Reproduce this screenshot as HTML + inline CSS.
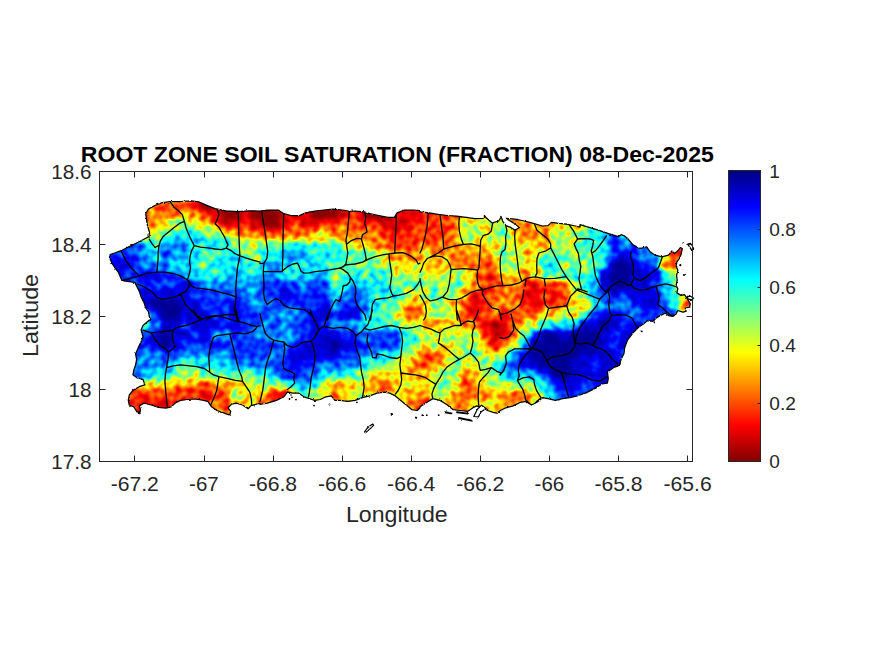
<!DOCTYPE html>
<html lang="en"><head><meta charset="utf-8"><title>Root Zone Soil Saturation</title>
<style>
html,body{margin:0;padding:0;background:#fff;}
body{width:875px;height:656px;overflow:hidden;position:relative;font-family:"Liberation Sans",Arial,sans-serif;}
svg{position:absolute;left:0;top:0;display:block;}
text{font-family:"Liberation Sans",Arial,sans-serif;}
.tk{font-size:21px;fill:#262626;}
.ck{font-size:19px;fill:#262626;}
.lb{font-size:22.5px;fill:#262626;}
.tt{font-size:22px;font-weight:bold;fill:#000;}
</style></head><body>
<svg width="875" height="656" viewBox="0 0 875 656">
<defs>
<linearGradient id="cb" x1="0" y1="0" x2="0" y2="1">
<stop offset="0" stop-color="#000080"/><stop offset="0.125" stop-color="#0000ff"/><stop offset="0.375" stop-color="#00ffff"/><stop offset="0.625" stop-color="#ffff00"/><stop offset="0.875" stop-color="#ff0000"/><stop offset="1" stop-color="#800000"/>
</linearGradient>
</defs>
<rect x="0" y="0" width="875" height="656" fill="#ffffff"/>

<defs>
<filter id="fld" x="90" y="190" width="620" height="260" filterUnits="userSpaceOnUse" color-interpolation-filters="sRGB">
<feGaussianBlur in="SourceGraphic" stdDeviation="2.7" result="b"/>
<feTurbulence type="fractalNoise" baseFrequency="0.16" numOctaves="1" seed="7" result="n"/>
<feColorMatrix in="n" type="matrix" values="1 0 0 0 0  1 0 0 0 0  1 0 0 0 0  0 0 0 0 1" result="ng"/>
<feComponentTransfer in="b" result="w"><feFuncR type="table" tableValues="0.000 0.134 0.258 0.371 0.474 0.566 0.648 0.721 0.784 0.837 0.882 0.918 0.945 0.963 0.973 0.976 0.970 0.957 0.936 0.909 0.874 0.833 0.785 0.731 0.671 0.605 0.534 0.457 0.375 0.288 0.197 0.100 0.000"/><feFuncG type="table" tableValues="0.000 0.134 0.258 0.371 0.474 0.566 0.648 0.721 0.784 0.837 0.882 0.918 0.945 0.963 0.973 0.976 0.970 0.957 0.936 0.909 0.874 0.833 0.785 0.731 0.671 0.605 0.534 0.457 0.375 0.288 0.197 0.100 0.000"/><feFuncB type="table" tableValues="0.000 0.134 0.258 0.371 0.474 0.566 0.648 0.721 0.784 0.837 0.882 0.918 0.945 0.963 0.973 0.976 0.970 0.957 0.936 0.909 0.874 0.833 0.785 0.731 0.671 0.605 0.534 0.457 0.375 0.288 0.197 0.100 0.000"/></feComponentTransfer>
<feComponentTransfer in="b" result="b2"><feFuncR type="table" tableValues="0.000 0.000 0.000 0.000 0.000 0.001 0.009 0.021 0.034 0.051 0.070 0.091 0.115 0.141 0.170 0.200 0.233 0.268 0.305 0.344 0.385 0.427 0.472 0.518 0.565 0.615 0.666 0.718 0.772 0.827 0.883 0.941 1.000"/><feFuncG type="table" tableValues="0.000 0.000 0.000 0.000 0.000 0.001 0.009 0.021 0.034 0.051 0.070 0.091 0.115 0.141 0.170 0.200 0.233 0.268 0.305 0.344 0.385 0.427 0.472 0.518 0.565 0.615 0.666 0.718 0.772 0.827 0.883 0.941 1.000"/><feFuncB type="table" tableValues="0.000 0.000 0.000 0.000 0.000 0.001 0.009 0.021 0.034 0.051 0.070 0.091 0.115 0.141 0.170 0.200 0.233 0.268 0.305 0.344 0.385 0.427 0.472 0.518 0.565 0.615 0.666 0.718 0.772 0.827 0.883 0.941 1.000"/></feComponentTransfer>
<feComposite in="w" in2="ng" operator="arithmetic" k1="1" k2="0" k3="0" k4="0" result="wn"/>
<feComposite in="b2" in2="wn" operator="arithmetic" k1="0" k2="1" k3="0.550" k4="0" result="v"/>
<feComponentTransfer in="v"><feFuncR type="table" tableValues="0.500 0.625 0.750 0.875 1.000 1.000 1.000 1.000 1.000 1.000 1.000 1.000 1.000 0.875 0.750 0.625 0.500 0.375 0.250 0.125 0.000 0.000 0.000 0.000 0.000 0.000 0.000 0.000 0.000 0.000 0.000 0.000 0.000"/><feFuncG type="table" tableValues="0.000 0.000 0.000 0.000 0.000 0.125 0.250 0.375 0.500 0.625 0.750 0.875 1.000 1.000 1.000 1.000 1.000 1.000 1.000 1.000 1.000 0.875 0.750 0.625 0.500 0.375 0.250 0.125 0.000 0.000 0.000 0.000 0.000"/><feFuncB type="table" tableValues="0.000 0.000 0.000 0.000 0.000 0.000 0.000 0.000 0.000 0.000 0.000 0.000 0.000 0.125 0.250 0.375 0.500 0.625 0.750 0.875 1.000 1.000 1.000 1.000 1.000 1.000 1.000 1.000 1.000 0.875 0.750 0.625 0.500"/></feComponentTransfer>
</filter>
<filter id="rough" x="90" y="190" width="620" height="260" filterUnits="userSpaceOnUse">
<feTurbulence type="fractalNoise" baseFrequency="0.35" numOctaves="2" seed="3" result="t"/>
<feDisplacementMap in="SourceGraphic" in2="t" scale="2.2" xChannelSelector="R" yChannelSelector="G"/>
</filter>
<clipPath id="isl"><path d="M151.2 320.0L149.4 317.0L148.4 311.5L145.7 307.9L143.9 302.4L141.1 296.9L139.3 291.4L136.6 285.9L134.7 282.3L127.4 281.4L121.9 280.4L118.3 272.2L115.5 268.6L111.9 263.1L109.5 257.6L110.1 254.5L114.6 253.0L121.9 250.3L129.3 246.6L136.6 243.0L143.9 239.3L149.0 236.6L149.4 232.0L147.5 225.6L146.6 220.1L145.7 213.7L148.4 209.1L154.8 205.5L162.2 202.7L170.4 201.5L180.4 201.5L191.4 200.9L198.6 201.9L206.8 205.3L215.0 208.7L226.0 210.8L237.0 211.7L250.0 210.8L260.0 211.0L267.3 210.0L278.3 210.0L283.8 213.7L291.0 215.5L299.3 215.5L305.7 212.8L314.8 211.0L324.0 210.0L333.0 209.1L342.3 210.0L349.6 211.3L355.0 211.0L364.2 211.9L369.7 213.7L378.8 215.5L388.0 217.4L394.4 217.4L397.1 212.8L404.4 210.0L413.6 210.0L420.0 210.6L420.0 211.9L429.1 212.8L438.3 214.3L447.4 215.5L456.6 216.1L465.7 217.4L474.8 218.6L483.1 218.3L484.9 216.1L486.7 218.3L492.2 222.9L498.6 221.0L501.4 216.8L502.6 221.0L505.9 225.6L510.5 227.4L515.1 230.2L519.6 227.4L513.2 222.9L505.9 218.3L515.1 219.2L524.2 221.0L533.3 223.4L542.5 226.0L548.0 225.6L551.6 222.3L558.9 223.4L566.3 224.1L575.4 226.0L580.0 227.1L580.0 224.7L589.1 227.4L598.3 230.2L609.3 233.8L618.4 236.6L621.1 234.7L624.8 236.2L628.4 239.3L633.0 244.8L640.0 248.5L646.7 246.8L650.1 251.8L655.1 255.2L661.8 256.8L668.5 255.2L671.9 251.0L674.4 253.5L677.8 251.0L680.3 247.6L682.3 248.5L681.1 254.3L679.4 258.5L676.9 261.9L676.1 266.1L677.8 270.3L676.6 275.3L677.2 280.3L676.1 285.4L677.8 288.7L676.9 292.9L681.1 295.4L684.5 294.6L687.8 299.6L690.3 303.8L689.5 307.2L685.3 308.0L686.1 311.4L682.8 312.2L677.8 310.5L676.1 313.9L672.7 316.4L668.5 315.6L665.2 313.1L660.1 315.6L655.9 318.1L654.5 320.0L652.6 321.4L647.6 320.6L643.4 324.0L638.5 327.3L633.0 332.8L627.5 340.1L624.8 347.4L623.9 353.8L621.1 359.3L619.3 365.7L613.8 367.5L607.4 372.1L608.3 378.5L607.4 383.1L601.9 384.0L596.5 387.6L591.0 390.4L585.5 393.1L580.0 395.0L577.2 395.9L569.9 397.7L562.6 398.6L555.3 400.4L548.0 398.6L542.5 397.7L537.0 402.3L531.5 405.0L526.0 401.4L520.5 402.3L513.2 405.9L505.9 407.8L500.4 410.5L496.8 413.2L493.1 412.3L487.6 410.5L482.2 407.8L476.7 405.9L473.0 407.8L467.5 411.4L460.2 410.5L452.9 409.6L447.4 405.0L440.1 400.4L432.8 398.6L425.5 403.2L420.0 406.8L420.0 407.8L417.2 410.5L411.7 409.6L406.3 405.0L400.8 400.4L395.3 395.9L389.8 393.1L384.3 392.2L377.0 393.1L369.7 395.9L362.4 397.7L355.1 400.4L347.8 401.4L340.4 400.4L335.0 400.4L331.3 395.9L325.8 396.8L320.3 399.5L314.8 400.4L309.4 398.6L303.9 396.8L298.4 393.1L292.9 393.1L287.4 392.2L283.8 396.8L276.5 400.4L267.3 403.2L260.0 404.5L260.0 403.2L255.4 404.5L250.8 405.9L248.1 408.7L242.6 405.0L236.2 403.2L231.6 404.1L228.0 407.8L230.7 411.4L229.8 415.1L224.3 413.2L217.0 410.5L211.5 406.8L207.9 401.4L202.4 400.1L195.1 399.0L187.8 399.5L180.4 400.4L175.0 403.2L171.3 406.8L165.8 408.1L158.5 407.4L151.2 405.0L143.9 403.2L139.3 405.9L140.6 409.6L139.3 413.6L136.6 411.4L133.8 406.8L129.3 405.0L128.3 400.4L129.3 395.0L132.9 390.4L139.3 386.7L144.8 384.9L143.0 379.4L136.6 377.6L132.9 374.8L133.8 370.3L135.6 364.8L136.6 359.3L135.6 353.8L138.4 347.4L141.1 341.9L143.0 336.5L141.1 330.1L143.0 325.5L149.4 320.0Z"/></clipPath></defs>
<g clip-path="url(#isl)"><g filter="url(#fld)">
<rect x="90" y="190" width="620" height="260" fill="#808080"/>
<rect x="100" y="200" width="10.5" height="10.5" fill="#8a8a8a"/>
<rect x="110" y="200" width="10.5" height="10.5" fill="#444444"/>
<rect x="120" y="200" width="40.5" height="10.5" fill="#424242"/>
<rect x="160" y="200" width="30.5" height="10.5" fill="#2e2e2e"/>
<rect x="190" y="200" width="10.5" height="10.5" fill="#171717"/>
<rect x="200" y="200" width="20.5" height="10.5" fill="#030303"/>
<rect x="220" y="200" width="10.5" height="10.5" fill="#080808"/>
<rect x="230" y="200" width="30.5" height="10.5" fill="#090909"/>
<rect x="260" y="200" width="10.5" height="10.5" fill="#030303"/>
<rect x="270" y="200" width="10.5" height="10.5" fill="#090909"/>
<rect x="280" y="200" width="10.5" height="10.5" fill="#101010"/>
<rect x="290" y="200" width="10.5" height="10.5" fill="#171717"/>
<rect x="300" y="200" width="10.5" height="10.5" fill="#101010"/>
<rect x="310" y="200" width="10.5" height="10.5" fill="#090909"/>
<rect x="320" y="200" width="10.5" height="10.5" fill="#030303"/>
<rect x="330" y="200" width="10.5" height="10.5" fill="#090909"/>
<rect x="340" y="200" width="20.5" height="10.5" fill="#181818"/>
<rect x="360" y="200" width="10.5" height="10.5" fill="#111111"/>
<rect x="370" y="200" width="10.5" height="10.5" fill="#030303"/>
<rect x="380" y="200" width="10.5" height="10.5" fill="#090909"/>
<rect x="390" y="200" width="10.5" height="10.5" fill="#101010"/>
<rect x="400" y="200" width="10.5" height="10.5" fill="#171717"/>
<rect x="410" y="200" width="10.5" height="10.5" fill="#1f1f1f"/>
<rect x="420" y="200" width="10.5" height="10.5" fill="#262626"/>
<rect x="430" y="200" width="20.5" height="10.5" fill="#2e2e2e"/>
<rect x="450" y="200" width="10.5" height="10.5" fill="#3d3d3d"/>
<rect x="460" y="200" width="10.5" height="10.5" fill="#4c4c4c"/>
<rect x="470" y="200" width="10.5" height="10.5" fill="#535353"/>
<rect x="480" y="200" width="10.5" height="10.5" fill="#4f4f4f"/>
<rect x="490" y="200" width="10.5" height="10.5" fill="#424242"/>
<rect x="500" y="200" width="10.5" height="10.5" fill="#565656"/>
<rect x="510" y="200" width="10.5" height="10.5" fill="#525252"/>
<rect x="520" y="200" width="10.5" height="10.5" fill="#484848"/>
<rect x="530" y="200" width="10.5" height="10.5" fill="#454545"/>
<rect x="540" y="200" width="10.5" height="10.5" fill="#4b4b4b"/>
<rect x="550" y="200" width="10.5" height="10.5" fill="#565656"/>
<rect x="560" y="200" width="10.5" height="10.5" fill="#616161"/>
<rect x="570" y="200" width="10.5" height="10.5" fill="#707070"/>
<rect x="580" y="200" width="10.5" height="10.5" fill="#7d7d7d"/>
<rect x="590" y="200" width="10.5" height="10.5" fill="#8f8f8f"/>
<rect x="600" y="200" width="10.5" height="10.5" fill="#959595"/>
<rect x="610" y="200" width="10.5" height="10.5" fill="#a1a1a1"/>
<rect x="620" y="200" width="10.5" height="10.5" fill="#acacac"/>
<rect x="630" y="200" width="10.5" height="10.5" fill="#ababab"/>
<rect x="640" y="200" width="10.5" height="10.5" fill="#a7a7a7"/>
<rect x="650" y="200" width="10.5" height="10.5" fill="#a1a1a1"/>
<rect x="660" y="200" width="10.5" height="10.5" fill="#c3c3c3"/>
<rect x="670" y="200" width="20.5" height="10.5" fill="#d4d4d4"/>
<rect x="690" y="200" width="10.5" height="10.5" fill="#7e7e7e"/>
<rect x="100" y="210" width="10.5" height="10.5" fill="#d0d0d0"/>
<rect x="110" y="210" width="10.5" height="10.5" fill="#8a8a8a"/>
<rect x="120" y="210" width="10.5" height="10.5" fill="#454545"/>
<rect x="130" y="210" width="50.5" height="10.5" fill="#424242"/>
<rect x="180" y="210" width="10.5" height="10.5" fill="#5c5c5c"/>
<rect x="190" y="210" width="10.5" height="10.5" fill="#424242"/>
<rect x="200" y="210" width="10.5" height="10.5" fill="#2e2e2e"/>
<rect x="210" y="210" width="10.5" height="10.5" fill="#171717"/>
<rect x="220" y="210" width="20.5" height="10.5" fill="#030303"/>
<rect x="240" y="210" width="10.5" height="10.5" fill="#171717"/>
<rect x="250" y="210" width="30.5" height="10.5" fill="#030303"/>
<rect x="280" y="210" width="30.5" height="10.5" fill="#171717"/>
<rect x="310" y="210" width="30.5" height="10.5" fill="#030303"/>
<rect x="340" y="210" width="10.5" height="10.5" fill="#171717"/>
<rect x="350" y="210" width="10.5" height="10.5" fill="#2e2e2e"/>
<rect x="360" y="210" width="30.5" height="10.5" fill="#030303"/>
<rect x="390" y="210" width="30.5" height="10.5" fill="#171717"/>
<rect x="420" y="210" width="40.5" height="10.5" fill="#2e2e2e"/>
<rect x="460" y="210" width="20.5" height="10.5" fill="#5c5c5c"/>
<rect x="480" y="210" width="10.5" height="10.5" fill="#424242"/>
<rect x="490" y="210" width="10.5" height="10.5" fill="#616161"/>
<rect x="500" y="210" width="10.5" height="10.5" fill="#636363"/>
<rect x="510" y="210" width="10.5" height="10.5" fill="#525252"/>
<rect x="520" y="210" width="20.5" height="10.5" fill="#424242"/>
<rect x="540" y="210" width="10.5" height="10.5" fill="#4b4b4b"/>
<rect x="550" y="210" width="10.5" height="10.5" fill="#535353"/>
<rect x="560" y="210" width="10.5" height="10.5" fill="#636363"/>
<rect x="570" y="210" width="10.5" height="10.5" fill="#6b6b6b"/>
<rect x="580" y="210" width="10.5" height="10.5" fill="#828282"/>
<rect x="590" y="210" width="10.5" height="10.5" fill="#8a8a8a"/>
<rect x="600" y="210" width="10.5" height="10.5" fill="#a1a1a1"/>
<rect x="610" y="210" width="10.5" height="10.5" fill="#b2b2b2"/>
<rect x="620" y="210" width="10.5" height="10.5" fill="#b2b2b2"/>
<rect x="630" y="210" width="10.5" height="10.5" fill="#adadad"/>
<rect x="640" y="210" width="10.5" height="10.5" fill="#a1a1a1"/>
<rect x="650" y="210" width="10.5" height="10.5" fill="#c3c3c3"/>
<rect x="660" y="210" width="20.5" height="10.5" fill="#d4d4d4"/>
<rect x="680" y="210" width="10.5" height="10.5" fill="#6f6f6f"/>
<rect x="690" y="210" width="10.5" height="10.5" fill="#373737"/>
<rect x="100" y="220" width="10.5" height="10.5" fill="#d4d4d4"/>
<rect x="110" y="220" width="10.5" height="10.5" fill="#cdcdcd"/>
<rect x="120" y="220" width="10.5" height="10.5" fill="#8c8c8c"/>
<rect x="130" y="220" width="10.5" height="10.5" fill="#4b4b4b"/>
<rect x="140" y="220" width="20.5" height="10.5" fill="#424242"/>
<rect x="160" y="220" width="10.5" height="10.5" fill="#5c5c5c"/>
<rect x="170" y="220" width="10.5" height="10.5" fill="#737373"/>
<rect x="180" y="220" width="10.5" height="10.5" fill="#8a8a8a"/>
<rect x="190" y="220" width="10.5" height="10.5" fill="#737373"/>
<rect x="200" y="220" width="10.5" height="10.5" fill="#5c5c5c"/>
<rect x="210" y="220" width="10.5" height="10.5" fill="#424242"/>
<rect x="220" y="220" width="20.5" height="10.5" fill="#171717"/>
<rect x="240" y="220" width="10.5" height="10.5" fill="#2e2e2e"/>
<rect x="250" y="220" width="10.5" height="10.5" fill="#171717"/>
<rect x="260" y="220" width="20.5" height="10.5" fill="#030303"/>
<rect x="280" y="220" width="10.5" height="10.5" fill="#171717"/>
<rect x="290" y="220" width="10.5" height="10.5" fill="#2e2e2e"/>
<rect x="300" y="220" width="20.5" height="10.5" fill="#171717"/>
<rect x="320" y="220" width="20.5" height="10.5" fill="#2e2e2e"/>
<rect x="340" y="220" width="10.5" height="10.5" fill="#424242"/>
<rect x="350" y="220" width="30.5" height="10.5" fill="#2e2e2e"/>
<rect x="380" y="220" width="30.5" height="10.5" fill="#171717"/>
<rect x="410" y="220" width="40.5" height="10.5" fill="#2e2e2e"/>
<rect x="450" y="220" width="10.5" height="10.5" fill="#424242"/>
<rect x="460" y="220" width="20.5" height="10.5" fill="#737373"/>
<rect x="480" y="220" width="10.5" height="10.5" fill="#5c5c5c"/>
<rect x="490" y="220" width="20.5" height="10.5" fill="#737373"/>
<rect x="510" y="220" width="40.5" height="10.5" fill="#424242"/>
<rect x="550" y="220" width="20.5" height="10.5" fill="#5c5c5c"/>
<rect x="570" y="220" width="20.5" height="10.5" fill="#737373"/>
<rect x="590" y="220" width="10.5" height="10.5" fill="#a1a1a1"/>
<rect x="600" y="220" width="10.5" height="10.5" fill="#b4b4b4"/>
<rect x="610" y="220" width="20.5" height="10.5" fill="#bababa"/>
<rect x="630" y="220" width="10.5" height="10.5" fill="#a1a1a1"/>
<rect x="640" y="220" width="10.5" height="10.5" fill="#c2c2c2"/>
<rect x="650" y="220" width="20.5" height="10.5" fill="#d4d4d4"/>
<rect x="670" y="220" width="10.5" height="10.5" fill="#797979"/>
<rect x="680" y="220" width="10.5" height="10.5" fill="#3b3b3b"/>
<rect x="690" y="220" width="10.5" height="10.5" fill="#343434"/>
<rect x="100" y="230" width="20.5" height="10.5" fill="#d4d4d4"/>
<rect x="120" y="230" width="10.5" height="10.5" fill="#c7c7c7"/>
<rect x="130" y="230" width="10.5" height="10.5" fill="#949494"/>
<rect x="140" y="230" width="10.5" height="10.5" fill="#5c5c5c"/>
<rect x="150" y="230" width="10.5" height="10.5" fill="#737373"/>
<rect x="160" y="230" width="10.5" height="10.5" fill="#8a8a8a"/>
<rect x="170" y="230" width="30.5" height="10.5" fill="#a1a1a1"/>
<rect x="200" y="230" width="20.5" height="10.5" fill="#8a8a8a"/>
<rect x="220" y="230" width="10.5" height="10.5" fill="#737373"/>
<rect x="230" y="230" width="10.5" height="10.5" fill="#5c5c5c"/>
<rect x="240" y="230" width="30.5" height="10.5" fill="#424242"/>
<rect x="270" y="230" width="10.5" height="10.5" fill="#2e2e2e"/>
<rect x="280" y="230" width="30.5" height="10.5" fill="#424242"/>
<rect x="310" y="230" width="20.5" height="10.5" fill="#5c5c5c"/>
<rect x="330" y="230" width="50.5" height="10.5" fill="#424242"/>
<rect x="380" y="230" width="10.5" height="10.5" fill="#2e2e2e"/>
<rect x="390" y="230" width="10.5" height="10.5" fill="#171717"/>
<rect x="400" y="230" width="50.5" height="10.5" fill="#2e2e2e"/>
<rect x="450" y="230" width="10.5" height="10.5" fill="#424242"/>
<rect x="460" y="230" width="20.5" height="10.5" fill="#737373"/>
<rect x="480" y="230" width="10.5" height="10.5" fill="#5c5c5c"/>
<rect x="490" y="230" width="10.5" height="10.5" fill="#737373"/>
<rect x="500" y="230" width="10.5" height="10.5" fill="#8a8a8a"/>
<rect x="510" y="230" width="10.5" height="10.5" fill="#5c5c5c"/>
<rect x="520" y="230" width="30.5" height="10.5" fill="#424242"/>
<rect x="550" y="230" width="30.5" height="10.5" fill="#737373"/>
<rect x="580" y="230" width="10.5" height="10.5" fill="#8a8a8a"/>
<rect x="590" y="230" width="10.5" height="10.5" fill="#a1a1a1"/>
<rect x="600" y="230" width="10.5" height="10.5" fill="#bababa"/>
<rect x="610" y="230" width="10.5" height="10.5" fill="#d4d4d4"/>
<rect x="620" y="230" width="10.5" height="10.5" fill="#a1a1a1"/>
<rect x="630" y="230" width="10.5" height="10.5" fill="#c1c1c1"/>
<rect x="640" y="230" width="20.5" height="10.5" fill="#d4d4d4"/>
<rect x="660" y="230" width="10.5" height="10.5" fill="#8b8b8b"/>
<rect x="670" y="230" width="10.5" height="10.5" fill="#4a4a4a"/>
<rect x="680" y="230" width="10.5" height="10.5" fill="#393939"/>
<rect x="690" y="230" width="10.5" height="10.5" fill="#2e2e2e"/>
<rect x="100" y="240" width="30.5" height="10.5" fill="#d4d4d4"/>
<rect x="130" y="240" width="20.5" height="10.5" fill="#bababa"/>
<rect x="150" y="240" width="10.5" height="10.5" fill="#8a8a8a"/>
<rect x="160" y="240" width="30.5" height="10.5" fill="#bababa"/>
<rect x="190" y="240" width="40.5" height="10.5" fill="#a1a1a1"/>
<rect x="230" y="240" width="10.5" height="10.5" fill="#8a8a8a"/>
<rect x="240" y="240" width="20.5" height="10.5" fill="#737373"/>
<rect x="260" y="240" width="30.5" height="10.5" fill="#8a8a8a"/>
<rect x="290" y="240" width="10.5" height="10.5" fill="#a1a1a1"/>
<rect x="300" y="240" width="40.5" height="10.5" fill="#8a8a8a"/>
<rect x="340" y="240" width="10.5" height="10.5" fill="#737373"/>
<rect x="350" y="240" width="20.5" height="10.5" fill="#5c5c5c"/>
<rect x="370" y="240" width="20.5" height="10.5" fill="#424242"/>
<rect x="390" y="240" width="30.5" height="10.5" fill="#2e2e2e"/>
<rect x="420" y="240" width="10.5" height="10.5" fill="#424242"/>
<rect x="430" y="240" width="10.5" height="10.5" fill="#2e2e2e"/>
<rect x="440" y="240" width="20.5" height="10.5" fill="#424242"/>
<rect x="460" y="240" width="40.5" height="10.5" fill="#5c5c5c"/>
<rect x="500" y="240" width="10.5" height="10.5" fill="#737373"/>
<rect x="510" y="240" width="30.5" height="10.5" fill="#5c5c5c"/>
<rect x="540" y="240" width="10.5" height="10.5" fill="#424242"/>
<rect x="550" y="240" width="30.5" height="10.5" fill="#737373"/>
<rect x="580" y="240" width="10.5" height="10.5" fill="#a1a1a1"/>
<rect x="590" y="240" width="10.5" height="10.5" fill="#8a8a8a"/>
<rect x="600" y="240" width="10.5" height="10.5" fill="#a1a1a1"/>
<rect x="610" y="240" width="10.5" height="10.5" fill="#ebebeb"/>
<rect x="620" y="240" width="10.5" height="10.5" fill="#bababa"/>
<rect x="630" y="240" width="20.5" height="10.5" fill="#d4d4d4"/>
<rect x="650" y="240" width="10.5" height="10.5" fill="#a9a9a9"/>
<rect x="660" y="240" width="10.5" height="10.5" fill="#6c6c6c"/>
<rect x="670" y="240" width="10.5" height="10.5" fill="#454545"/>
<rect x="680" y="240" width="20.5" height="10.5" fill="#2e2e2e"/>
<rect x="100" y="250" width="10.5" height="10.5" fill="#dfdfdf"/>
<rect x="110" y="250" width="30.5" height="10.5" fill="#d4d4d4"/>
<rect x="140" y="250" width="10.5" height="10.5" fill="#bababa"/>
<rect x="150" y="250" width="10.5" height="10.5" fill="#a1a1a1"/>
<rect x="160" y="250" width="10.5" height="10.5" fill="#d4d4d4"/>
<rect x="170" y="250" width="20.5" height="10.5" fill="#bababa"/>
<rect x="190" y="250" width="10.5" height="10.5" fill="#a1a1a1"/>
<rect x="200" y="250" width="20.5" height="10.5" fill="#8a8a8a"/>
<rect x="220" y="250" width="20.5" height="10.5" fill="#a1a1a1"/>
<rect x="240" y="250" width="10.5" height="10.5" fill="#8a8a8a"/>
<rect x="250" y="250" width="10.5" height="10.5" fill="#737373"/>
<rect x="260" y="250" width="20.5" height="10.5" fill="#a1a1a1"/>
<rect x="280" y="250" width="30.5" height="10.5" fill="#bababa"/>
<rect x="310" y="250" width="30.5" height="10.5" fill="#a1a1a1"/>
<rect x="340" y="250" width="30.5" height="10.5" fill="#8a8a8a"/>
<rect x="370" y="250" width="10.5" height="10.5" fill="#737373"/>
<rect x="380" y="250" width="10.5" height="10.5" fill="#5c5c5c"/>
<rect x="390" y="250" width="30.5" height="10.5" fill="#424242"/>
<rect x="420" y="250" width="20.5" height="10.5" fill="#5c5c5c"/>
<rect x="440" y="250" width="50.5" height="10.5" fill="#424242"/>
<rect x="490" y="250" width="10.5" height="10.5" fill="#5c5c5c"/>
<rect x="500" y="250" width="10.5" height="10.5" fill="#8a8a8a"/>
<rect x="510" y="250" width="10.5" height="10.5" fill="#737373"/>
<rect x="520" y="250" width="20.5" height="10.5" fill="#5c5c5c"/>
<rect x="540" y="250" width="30.5" height="10.5" fill="#8a8a8a"/>
<rect x="570" y="250" width="10.5" height="10.5" fill="#737373"/>
<rect x="580" y="250" width="20.5" height="10.5" fill="#8a8a8a"/>
<rect x="600" y="250" width="10.5" height="10.5" fill="#a1a1a1"/>
<rect x="610" y="250" width="10.5" height="10.5" fill="#d4d4d4"/>
<rect x="620" y="250" width="10.5" height="10.5" fill="#ebebeb"/>
<rect x="630" y="250" width="10.5" height="10.5" fill="#d4d4d4"/>
<rect x="640" y="250" width="20.5" height="10.5" fill="#bababa"/>
<rect x="660" y="250" width="10.5" height="10.5" fill="#5c5c5c"/>
<rect x="670" y="250" width="20.5" height="10.5" fill="#2e2e2e"/>
<rect x="690" y="250" width="10.5" height="10.5" fill="#363636"/>
<rect x="100" y="260" width="10.5" height="10.5" fill="#dfdfdf"/>
<rect x="110" y="260" width="20.5" height="10.5" fill="#ebebeb"/>
<rect x="130" y="260" width="10.5" height="10.5" fill="#d4d4d4"/>
<rect x="140" y="260" width="30.5" height="10.5" fill="#bababa"/>
<rect x="170" y="260" width="30.5" height="10.5" fill="#a1a1a1"/>
<rect x="200" y="260" width="10.5" height="10.5" fill="#8a8a8a"/>
<rect x="210" y="260" width="40.5" height="10.5" fill="#a1a1a1"/>
<rect x="250" y="260" width="10.5" height="10.5" fill="#8a8a8a"/>
<rect x="260" y="260" width="20.5" height="10.5" fill="#bababa"/>
<rect x="280" y="260" width="50.5" height="10.5" fill="#a1a1a1"/>
<rect x="330" y="260" width="50.5" height="10.5" fill="#8a8a8a"/>
<rect x="380" y="260" width="10.5" height="10.5" fill="#737373"/>
<rect x="390" y="260" width="40.5" height="10.5" fill="#5c5c5c"/>
<rect x="430" y="260" width="10.5" height="10.5" fill="#424242"/>
<rect x="440" y="260" width="10.5" height="10.5" fill="#5c5c5c"/>
<rect x="450" y="260" width="30.5" height="10.5" fill="#424242"/>
<rect x="480" y="260" width="10.5" height="10.5" fill="#2e2e2e"/>
<rect x="490" y="260" width="10.5" height="10.5" fill="#424242"/>
<rect x="500" y="260" width="10.5" height="10.5" fill="#8a8a8a"/>
<rect x="510" y="260" width="10.5" height="10.5" fill="#737373"/>
<rect x="520" y="260" width="20.5" height="10.5" fill="#5c5c5c"/>
<rect x="540" y="260" width="20.5" height="10.5" fill="#a1a1a1"/>
<rect x="560" y="260" width="10.5" height="10.5" fill="#737373"/>
<rect x="570" y="260" width="10.5" height="10.5" fill="#8a8a8a"/>
<rect x="580" y="260" width="10.5" height="10.5" fill="#737373"/>
<rect x="590" y="260" width="10.5" height="10.5" fill="#8a8a8a"/>
<rect x="600" y="260" width="10.5" height="10.5" fill="#bababa"/>
<rect x="610" y="260" width="20.5" height="10.5" fill="#fafafa"/>
<rect x="630" y="260" width="10.5" height="10.5" fill="#ebebeb"/>
<rect x="640" y="260" width="20.5" height="10.5" fill="#d4d4d4"/>
<rect x="660" y="260" width="10.5" height="10.5" fill="#424242"/>
<rect x="670" y="260" width="10.5" height="10.5" fill="#2e2e2e"/>
<rect x="680" y="260" width="10.5" height="10.5" fill="#454545"/>
<rect x="690" y="260" width="10.5" height="10.5" fill="#474747"/>
<rect x="100" y="270" width="10.5" height="10.5" fill="#ebebeb"/>
<rect x="110" y="270" width="10.5" height="10.5" fill="#e3e3e3"/>
<rect x="120" y="270" width="20.5" height="10.5" fill="#d4d4d4"/>
<rect x="140" y="270" width="20.5" height="10.5" fill="#ebebeb"/>
<rect x="160" y="270" width="20.5" height="10.5" fill="#d4d4d4"/>
<rect x="180" y="270" width="10.5" height="10.5" fill="#bababa"/>
<rect x="190" y="270" width="40.5" height="10.5" fill="#a1a1a1"/>
<rect x="230" y="270" width="10.5" height="10.5" fill="#bababa"/>
<rect x="240" y="270" width="20.5" height="10.5" fill="#a1a1a1"/>
<rect x="260" y="270" width="20.5" height="10.5" fill="#bababa"/>
<rect x="280" y="270" width="30.5" height="10.5" fill="#a1a1a1"/>
<rect x="310" y="270" width="20.5" height="10.5" fill="#bababa"/>
<rect x="330" y="270" width="10.5" height="10.5" fill="#737373"/>
<rect x="340" y="270" width="10.5" height="10.5" fill="#8a8a8a"/>
<rect x="350" y="270" width="10.5" height="10.5" fill="#a1a1a1"/>
<rect x="360" y="270" width="10.5" height="10.5" fill="#8a8a8a"/>
<rect x="370" y="270" width="10.5" height="10.5" fill="#a1a1a1"/>
<rect x="380" y="270" width="10.5" height="10.5" fill="#8a8a8a"/>
<rect x="390" y="270" width="40.5" height="10.5" fill="#737373"/>
<rect x="430" y="270" width="10.5" height="10.5" fill="#5c5c5c"/>
<rect x="440" y="270" width="30.5" height="10.5" fill="#737373"/>
<rect x="470" y="270" width="10.5" height="10.5" fill="#424242"/>
<rect x="480" y="270" width="20.5" height="10.5" fill="#2e2e2e"/>
<rect x="500" y="270" width="20.5" height="10.5" fill="#5c5c5c"/>
<rect x="520" y="270" width="10.5" height="10.5" fill="#424242"/>
<rect x="530" y="270" width="10.5" height="10.5" fill="#5c5c5c"/>
<rect x="540" y="270" width="30.5" height="10.5" fill="#8a8a8a"/>
<rect x="570" y="270" width="10.5" height="10.5" fill="#a1a1a1"/>
<rect x="580" y="270" width="10.5" height="10.5" fill="#8a8a8a"/>
<rect x="590" y="270" width="10.5" height="10.5" fill="#a1a1a1"/>
<rect x="600" y="270" width="10.5" height="10.5" fill="#ebebeb"/>
<rect x="610" y="270" width="20.5" height="10.5" fill="#fafafa"/>
<rect x="630" y="270" width="30.5" height="10.5" fill="#ebebeb"/>
<rect x="660" y="270" width="10.5" height="10.5" fill="#a1a1a1"/>
<rect x="670" y="270" width="10.5" height="10.5" fill="#737373"/>
<rect x="680" y="270" width="10.5" height="10.5" fill="#636363"/>
<rect x="690" y="270" width="10.5" height="10.5" fill="#5f5f5f"/>
<rect x="100" y="280" width="10.5" height="10.5" fill="#e0e0e0"/>
<rect x="110" y="280" width="70.5" height="10.5" fill="#d4d4d4"/>
<rect x="180" y="280" width="10.5" height="10.5" fill="#ebebeb"/>
<rect x="190" y="280" width="10.5" height="10.5" fill="#d4d4d4"/>
<rect x="200" y="280" width="60.5" height="10.5" fill="#bababa"/>
<rect x="260" y="280" width="40.5" height="10.5" fill="#d4d4d4"/>
<rect x="300" y="280" width="10.5" height="10.5" fill="#bababa"/>
<rect x="310" y="280" width="20.5" height="10.5" fill="#d4d4d4"/>
<rect x="330" y="280" width="10.5" height="10.5" fill="#8a8a8a"/>
<rect x="340" y="280" width="10.5" height="10.5" fill="#a1a1a1"/>
<rect x="350" y="280" width="10.5" height="10.5" fill="#bababa"/>
<rect x="360" y="280" width="30.5" height="10.5" fill="#a1a1a1"/>
<rect x="390" y="280" width="30.5" height="10.5" fill="#8a8a8a"/>
<rect x="420" y="280" width="10.5" height="10.5" fill="#737373"/>
<rect x="430" y="280" width="10.5" height="10.5" fill="#8a8a8a"/>
<rect x="440" y="280" width="10.5" height="10.5" fill="#737373"/>
<rect x="450" y="280" width="10.5" height="10.5" fill="#8a8a8a"/>
<rect x="460" y="280" width="10.5" height="10.5" fill="#737373"/>
<rect x="470" y="280" width="10.5" height="10.5" fill="#424242"/>
<rect x="480" y="280" width="20.5" height="10.5" fill="#2e2e2e"/>
<rect x="500" y="280" width="20.5" height="10.5" fill="#424242"/>
<rect x="520" y="280" width="10.5" height="10.5" fill="#2e2e2e"/>
<rect x="530" y="280" width="10.5" height="10.5" fill="#171717"/>
<rect x="540" y="280" width="20.5" height="10.5" fill="#2e2e2e"/>
<rect x="560" y="280" width="10.5" height="10.5" fill="#424242"/>
<rect x="570" y="280" width="10.5" height="10.5" fill="#737373"/>
<rect x="580" y="280" width="10.5" height="10.5" fill="#a1a1a1"/>
<rect x="590" y="280" width="10.5" height="10.5" fill="#bababa"/>
<rect x="600" y="280" width="10.5" height="10.5" fill="#ebebeb"/>
<rect x="610" y="280" width="20.5" height="10.5" fill="#fafafa"/>
<rect x="630" y="280" width="20.5" height="10.5" fill="#ebebeb"/>
<rect x="650" y="280" width="10.5" height="10.5" fill="#d4d4d4"/>
<rect x="660" y="280" width="10.5" height="10.5" fill="#bababa"/>
<rect x="670" y="280" width="10.5" height="10.5" fill="#8a8a8a"/>
<rect x="680" y="280" width="10.5" height="10.5" fill="#787878"/>
<rect x="690" y="280" width="10.5" height="10.5" fill="#5c5c5c"/>
<rect x="100" y="290" width="30.5" height="10.5" fill="#d4d4d4"/>
<rect x="130" y="290" width="10.5" height="10.5" fill="#dfdfdf"/>
<rect x="140" y="290" width="50.5" height="10.5" fill="#ebebeb"/>
<rect x="190" y="290" width="50.5" height="10.5" fill="#d4d4d4"/>
<rect x="240" y="290" width="20.5" height="10.5" fill="#bababa"/>
<rect x="260" y="290" width="20.5" height="10.5" fill="#d4d4d4"/>
<rect x="280" y="290" width="10.5" height="10.5" fill="#ebebeb"/>
<rect x="290" y="290" width="40.5" height="10.5" fill="#d4d4d4"/>
<rect x="330" y="290" width="10.5" height="10.5" fill="#a1a1a1"/>
<rect x="340" y="290" width="10.5" height="10.5" fill="#bababa"/>
<rect x="350" y="290" width="10.5" height="10.5" fill="#d4d4d4"/>
<rect x="360" y="290" width="10.5" height="10.5" fill="#bababa"/>
<rect x="370" y="290" width="30.5" height="10.5" fill="#a1a1a1"/>
<rect x="400" y="290" width="10.5" height="10.5" fill="#737373"/>
<rect x="410" y="290" width="10.5" height="10.5" fill="#5c5c5c"/>
<rect x="420" y="290" width="10.5" height="10.5" fill="#737373"/>
<rect x="430" y="290" width="10.5" height="10.5" fill="#8a8a8a"/>
<rect x="440" y="290" width="20.5" height="10.5" fill="#737373"/>
<rect x="460" y="290" width="10.5" height="10.5" fill="#424242"/>
<rect x="470" y="290" width="10.5" height="10.5" fill="#171717"/>
<rect x="480" y="290" width="20.5" height="10.5" fill="#2e2e2e"/>
<rect x="500" y="290" width="20.5" height="10.5" fill="#424242"/>
<rect x="520" y="290" width="20.5" height="10.5" fill="#171717"/>
<rect x="540" y="290" width="10.5" height="10.5" fill="#2e2e2e"/>
<rect x="550" y="290" width="10.5" height="10.5" fill="#171717"/>
<rect x="560" y="290" width="10.5" height="10.5" fill="#2e2e2e"/>
<rect x="570" y="290" width="10.5" height="10.5" fill="#5c5c5c"/>
<rect x="580" y="290" width="10.5" height="10.5" fill="#737373"/>
<rect x="590" y="290" width="10.5" height="10.5" fill="#bababa"/>
<rect x="600" y="290" width="10.5" height="10.5" fill="#d4d4d4"/>
<rect x="610" y="290" width="10.5" height="10.5" fill="#ebebeb"/>
<rect x="620" y="290" width="10.5" height="10.5" fill="#d4d4d4"/>
<rect x="630" y="290" width="30.5" height="10.5" fill="#ebebeb"/>
<rect x="660" y="290" width="10.5" height="10.5" fill="#bababa"/>
<rect x="670" y="290" width="10.5" height="10.5" fill="#8a8a8a"/>
<rect x="680" y="290" width="10.5" height="10.5" fill="#5c5c5c"/>
<rect x="690" y="290" width="10.5" height="10.5" fill="#454545"/>
<rect x="100" y="300" width="20.5" height="10.5" fill="#d4d4d4"/>
<rect x="120" y="300" width="10.5" height="10.5" fill="#d0d0d0"/>
<rect x="130" y="300" width="10.5" height="10.5" fill="#d2d2d2"/>
<rect x="140" y="300" width="10.5" height="10.5" fill="#ebebeb"/>
<rect x="150" y="300" width="30.5" height="10.5" fill="#fafafa"/>
<rect x="180" y="300" width="20.5" height="10.5" fill="#ebebeb"/>
<rect x="200" y="300" width="30.5" height="10.5" fill="#d4d4d4"/>
<rect x="230" y="300" width="10.5" height="10.5" fill="#ebebeb"/>
<rect x="240" y="300" width="10.5" height="10.5" fill="#d4d4d4"/>
<rect x="250" y="300" width="20.5" height="10.5" fill="#bababa"/>
<rect x="270" y="300" width="50.5" height="10.5" fill="#d4d4d4"/>
<rect x="320" y="300" width="10.5" height="10.5" fill="#ebebeb"/>
<rect x="330" y="300" width="10.5" height="10.5" fill="#bababa"/>
<rect x="340" y="300" width="20.5" height="10.5" fill="#d4d4d4"/>
<rect x="360" y="300" width="10.5" height="10.5" fill="#bababa"/>
<rect x="370" y="300" width="10.5" height="10.5" fill="#a1a1a1"/>
<rect x="380" y="300" width="20.5" height="10.5" fill="#8a8a8a"/>
<rect x="400" y="300" width="10.5" height="10.5" fill="#5c5c5c"/>
<rect x="410" y="300" width="10.5" height="10.5" fill="#424242"/>
<rect x="420" y="300" width="10.5" height="10.5" fill="#5c5c5c"/>
<rect x="430" y="300" width="10.5" height="10.5" fill="#8a8a8a"/>
<rect x="440" y="300" width="10.5" height="10.5" fill="#737373"/>
<rect x="450" y="300" width="10.5" height="10.5" fill="#5c5c5c"/>
<rect x="460" y="300" width="10.5" height="10.5" fill="#2e2e2e"/>
<rect x="470" y="300" width="10.5" height="10.5" fill="#171717"/>
<rect x="480" y="300" width="10.5" height="10.5" fill="#2e2e2e"/>
<rect x="490" y="300" width="30.5" height="10.5" fill="#424242"/>
<rect x="520" y="300" width="10.5" height="10.5" fill="#2e2e2e"/>
<rect x="530" y="300" width="10.5" height="10.5" fill="#171717"/>
<rect x="540" y="300" width="20.5" height="10.5" fill="#2e2e2e"/>
<rect x="560" y="300" width="10.5" height="10.5" fill="#424242"/>
<rect x="570" y="300" width="20.5" height="10.5" fill="#5c5c5c"/>
<rect x="590" y="300" width="10.5" height="10.5" fill="#a1a1a1"/>
<rect x="600" y="300" width="30.5" height="10.5" fill="#bababa"/>
<rect x="630" y="300" width="10.5" height="10.5" fill="#d4d4d4"/>
<rect x="640" y="300" width="20.5" height="10.5" fill="#ebebeb"/>
<rect x="660" y="300" width="10.5" height="10.5" fill="#bababa"/>
<rect x="670" y="300" width="10.5" height="10.5" fill="#a1a1a1"/>
<rect x="680" y="300" width="10.5" height="10.5" fill="#2e2e2e"/>
<rect x="690" y="300" width="10.5" height="10.5" fill="#454545"/>
<rect x="100" y="310" width="10.5" height="10.5" fill="#d4d4d4"/>
<rect x="110" y="310" width="10.5" height="10.5" fill="#cbcbcb"/>
<rect x="120" y="310" width="10.5" height="10.5" fill="#bfbfbf"/>
<rect x="130" y="310" width="10.5" height="10.5" fill="#b9b9b9"/>
<rect x="140" y="310" width="10.5" height="10.5" fill="#a1a1a1"/>
<rect x="150" y="310" width="10.5" height="10.5" fill="#d4d4d4"/>
<rect x="160" y="310" width="20.5" height="10.5" fill="#fafafa"/>
<rect x="180" y="310" width="30.5" height="10.5" fill="#ebebeb"/>
<rect x="210" y="310" width="20.5" height="10.5" fill="#d4d4d4"/>
<rect x="230" y="310" width="10.5" height="10.5" fill="#ebebeb"/>
<rect x="240" y="310" width="30.5" height="10.5" fill="#d4d4d4"/>
<rect x="270" y="310" width="30.5" height="10.5" fill="#bababa"/>
<rect x="300" y="310" width="10.5" height="10.5" fill="#d4d4d4"/>
<rect x="310" y="310" width="20.5" height="10.5" fill="#ebebeb"/>
<rect x="330" y="310" width="10.5" height="10.5" fill="#d4d4d4"/>
<rect x="340" y="310" width="20.5" height="10.5" fill="#ebebeb"/>
<rect x="360" y="310" width="10.5" height="10.5" fill="#bababa"/>
<rect x="370" y="310" width="10.5" height="10.5" fill="#a1a1a1"/>
<rect x="380" y="310" width="10.5" height="10.5" fill="#8a8a8a"/>
<rect x="390" y="310" width="10.5" height="10.5" fill="#737373"/>
<rect x="400" y="310" width="10.5" height="10.5" fill="#424242"/>
<rect x="410" y="310" width="10.5" height="10.5" fill="#2e2e2e"/>
<rect x="420" y="310" width="10.5" height="10.5" fill="#5c5c5c"/>
<rect x="430" y="310" width="20.5" height="10.5" fill="#737373"/>
<rect x="450" y="310" width="10.5" height="10.5" fill="#5c5c5c"/>
<rect x="460" y="310" width="10.5" height="10.5" fill="#2e2e2e"/>
<rect x="470" y="310" width="10.5" height="10.5" fill="#171717"/>
<rect x="480" y="310" width="10.5" height="10.5" fill="#2e2e2e"/>
<rect x="490" y="310" width="10.5" height="10.5" fill="#424242"/>
<rect x="500" y="310" width="10.5" height="10.5" fill="#171717"/>
<rect x="510" y="310" width="10.5" height="10.5" fill="#2e2e2e"/>
<rect x="520" y="310" width="10.5" height="10.5" fill="#424242"/>
<rect x="530" y="310" width="10.5" height="10.5" fill="#2e2e2e"/>
<rect x="540" y="310" width="20.5" height="10.5" fill="#5c5c5c"/>
<rect x="560" y="310" width="10.5" height="10.5" fill="#737373"/>
<rect x="570" y="310" width="10.5" height="10.5" fill="#5c5c5c"/>
<rect x="580" y="310" width="10.5" height="10.5" fill="#a1a1a1"/>
<rect x="590" y="310" width="10.5" height="10.5" fill="#d4d4d4"/>
<rect x="600" y="310" width="20.5" height="10.5" fill="#ebebeb"/>
<rect x="620" y="310" width="10.5" height="10.5" fill="#d4d4d4"/>
<rect x="630" y="310" width="10.5" height="10.5" fill="#bababa"/>
<rect x="640" y="310" width="40.5" height="10.5" fill="#d4d4d4"/>
<rect x="680" y="310" width="10.5" height="10.5" fill="#8b8b8b"/>
<rect x="690" y="310" width="10.5" height="10.5" fill="#2e2e2e"/>
<rect x="100" y="320" width="20.5" height="10.5" fill="#d4d4d4"/>
<rect x="120" y="320" width="10.5" height="10.5" fill="#c1c1c1"/>
<rect x="130" y="320" width="10.5" height="10.5" fill="#b2b2b2"/>
<rect x="140" y="320" width="10.5" height="10.5" fill="#a1a1a1"/>
<rect x="150" y="320" width="10.5" height="10.5" fill="#bababa"/>
<rect x="160" y="320" width="20.5" height="10.5" fill="#ebebeb"/>
<rect x="180" y="320" width="10.5" height="10.5" fill="#d4d4d4"/>
<rect x="190" y="320" width="30.5" height="10.5" fill="#ebebeb"/>
<rect x="220" y="320" width="10.5" height="10.5" fill="#d4d4d4"/>
<rect x="230" y="320" width="10.5" height="10.5" fill="#ebebeb"/>
<rect x="240" y="320" width="20.5" height="10.5" fill="#d4d4d4"/>
<rect x="260" y="320" width="10.5" height="10.5" fill="#bababa"/>
<rect x="270" y="320" width="10.5" height="10.5" fill="#d4d4d4"/>
<rect x="280" y="320" width="10.5" height="10.5" fill="#bababa"/>
<rect x="290" y="320" width="20.5" height="10.5" fill="#d4d4d4"/>
<rect x="310" y="320" width="10.5" height="10.5" fill="#ebebeb"/>
<rect x="320" y="320" width="10.5" height="10.5" fill="#d4d4d4"/>
<rect x="330" y="320" width="30.5" height="10.5" fill="#bababa"/>
<rect x="360" y="320" width="10.5" height="10.5" fill="#a1a1a1"/>
<rect x="370" y="320" width="10.5" height="10.5" fill="#8a8a8a"/>
<rect x="380" y="320" width="10.5" height="10.5" fill="#a1a1a1"/>
<rect x="390" y="320" width="10.5" height="10.5" fill="#8a8a8a"/>
<rect x="400" y="320" width="20.5" height="10.5" fill="#737373"/>
<rect x="420" y="320" width="20.5" height="10.5" fill="#424242"/>
<rect x="440" y="320" width="20.5" height="10.5" fill="#5c5c5c"/>
<rect x="460" y="320" width="20.5" height="10.5" fill="#424242"/>
<rect x="480" y="320" width="10.5" height="10.5" fill="#171717"/>
<rect x="490" y="320" width="10.5" height="10.5" fill="#030303"/>
<rect x="500" y="320" width="10.5" height="10.5" fill="#171717"/>
<rect x="510" y="320" width="10.5" height="10.5" fill="#424242"/>
<rect x="520" y="320" width="10.5" height="10.5" fill="#5c5c5c"/>
<rect x="530" y="320" width="10.5" height="10.5" fill="#737373"/>
<rect x="540" y="320" width="30.5" height="10.5" fill="#a1a1a1"/>
<rect x="570" y="320" width="10.5" height="10.5" fill="#bababa"/>
<rect x="580" y="320" width="20.5" height="10.5" fill="#ebebeb"/>
<rect x="600" y="320" width="10.5" height="10.5" fill="#fafafa"/>
<rect x="610" y="320" width="10.5" height="10.5" fill="#ebebeb"/>
<rect x="620" y="320" width="10.5" height="10.5" fill="#d4d4d4"/>
<rect x="630" y="320" width="10.5" height="10.5" fill="#ebebeb"/>
<rect x="640" y="320" width="50.5" height="10.5" fill="#d4d4d4"/>
<rect x="690" y="320" width="10.5" height="10.5" fill="#848484"/>
<rect x="100" y="330" width="10.5" height="10.5" fill="#d3d3d3"/>
<rect x="110" y="330" width="20.5" height="10.5" fill="#d4d4d4"/>
<rect x="130" y="330" width="10.5" height="10.5" fill="#c7c7c7"/>
<rect x="140" y="330" width="10.5" height="10.5" fill="#d4d4d4"/>
<rect x="150" y="330" width="10.5" height="10.5" fill="#ebebeb"/>
<rect x="160" y="330" width="10.5" height="10.5" fill="#fafafa"/>
<rect x="170" y="330" width="20.5" height="10.5" fill="#ebebeb"/>
<rect x="190" y="330" width="10.5" height="10.5" fill="#d4d4d4"/>
<rect x="200" y="330" width="10.5" height="10.5" fill="#ebebeb"/>
<rect x="210" y="330" width="20.5" height="10.5" fill="#bababa"/>
<rect x="230" y="330" width="20.5" height="10.5" fill="#d4d4d4"/>
<rect x="250" y="330" width="50.5" height="10.5" fill="#bababa"/>
<rect x="300" y="330" width="10.5" height="10.5" fill="#d4d4d4"/>
<rect x="310" y="330" width="30.5" height="10.5" fill="#ebebeb"/>
<rect x="340" y="330" width="20.5" height="10.5" fill="#d4d4d4"/>
<rect x="360" y="330" width="10.5" height="10.5" fill="#bababa"/>
<rect x="370" y="330" width="30.5" height="10.5" fill="#d4d4d4"/>
<rect x="400" y="330" width="10.5" height="10.5" fill="#a1a1a1"/>
<rect x="410" y="330" width="10.5" height="10.5" fill="#8a8a8a"/>
<rect x="420" y="330" width="60.5" height="10.5" fill="#737373"/>
<rect x="480" y="330" width="10.5" height="10.5" fill="#2e2e2e"/>
<rect x="490" y="330" width="20.5" height="10.5" fill="#171717"/>
<rect x="510" y="330" width="10.5" height="10.5" fill="#424242"/>
<rect x="520" y="330" width="10.5" height="10.5" fill="#8a8a8a"/>
<rect x="530" y="330" width="10.5" height="10.5" fill="#d4d4d4"/>
<rect x="540" y="330" width="20.5" height="10.5" fill="#fafafa"/>
<rect x="560" y="330" width="10.5" height="10.5" fill="#ebebeb"/>
<rect x="570" y="330" width="30.5" height="10.5" fill="#fafafa"/>
<rect x="600" y="330" width="10.5" height="10.5" fill="#ebebeb"/>
<rect x="610" y="330" width="10.5" height="10.5" fill="#d4d4d4"/>
<rect x="620" y="330" width="20.5" height="10.5" fill="#ebebeb"/>
<rect x="640" y="330" width="10.5" height="10.5" fill="#dfdfdf"/>
<rect x="650" y="330" width="50.5" height="10.5" fill="#d4d4d4"/>
<rect x="100" y="340" width="20.5" height="10.5" fill="#d1d1d1"/>
<rect x="120" y="340" width="30.5" height="10.5" fill="#d4d4d4"/>
<rect x="150" y="340" width="10.5" height="10.5" fill="#ebebeb"/>
<rect x="160" y="340" width="10.5" height="10.5" fill="#fafafa"/>
<rect x="170" y="340" width="10.5" height="10.5" fill="#ebebeb"/>
<rect x="180" y="340" width="30.5" height="10.5" fill="#d4d4d4"/>
<rect x="210" y="340" width="10.5" height="10.5" fill="#ebebeb"/>
<rect x="220" y="340" width="60.5" height="10.5" fill="#d4d4d4"/>
<rect x="280" y="340" width="10.5" height="10.5" fill="#bababa"/>
<rect x="290" y="340" width="10.5" height="10.5" fill="#d4d4d4"/>
<rect x="300" y="340" width="30.5" height="10.5" fill="#ebebeb"/>
<rect x="330" y="340" width="10.5" height="10.5" fill="#fafafa"/>
<rect x="340" y="340" width="20.5" height="10.5" fill="#ebebeb"/>
<rect x="360" y="340" width="40.5" height="10.5" fill="#d4d4d4"/>
<rect x="400" y="340" width="10.5" height="10.5" fill="#a1a1a1"/>
<rect x="410" y="340" width="10.5" height="10.5" fill="#8a8a8a"/>
<rect x="420" y="340" width="10.5" height="10.5" fill="#5c5c5c"/>
<rect x="430" y="340" width="10.5" height="10.5" fill="#737373"/>
<rect x="440" y="340" width="10.5" height="10.5" fill="#5c5c5c"/>
<rect x="450" y="340" width="20.5" height="10.5" fill="#737373"/>
<rect x="470" y="340" width="10.5" height="10.5" fill="#8a8a8a"/>
<rect x="480" y="340" width="10.5" height="10.5" fill="#424242"/>
<rect x="490" y="340" width="10.5" height="10.5" fill="#171717"/>
<rect x="500" y="340" width="10.5" height="10.5" fill="#424242"/>
<rect x="510" y="340" width="10.5" height="10.5" fill="#737373"/>
<rect x="520" y="340" width="10.5" height="10.5" fill="#bababa"/>
<rect x="530" y="340" width="70.5" height="10.5" fill="#fafafa"/>
<rect x="600" y="340" width="10.5" height="10.5" fill="#ebebeb"/>
<rect x="610" y="340" width="10.5" height="10.5" fill="#d4d4d4"/>
<rect x="620" y="340" width="10.5" height="10.5" fill="#ebebeb"/>
<rect x="630" y="340" width="10.5" height="10.5" fill="#dedede"/>
<rect x="640" y="340" width="10.5" height="10.5" fill="#ebebeb"/>
<rect x="650" y="340" width="10.5" height="10.5" fill="#dcdcdc"/>
<rect x="660" y="340" width="40.5" height="10.5" fill="#d4d4d4"/>
<rect x="100" y="350" width="10.5" height="10.5" fill="#c9c9c9"/>
<rect x="110" y="350" width="10.5" height="10.5" fill="#cecece"/>
<rect x="120" y="350" width="10.5" height="10.5" fill="#cbcbcb"/>
<rect x="130" y="350" width="10.5" height="10.5" fill="#d4d4d4"/>
<rect x="140" y="350" width="20.5" height="10.5" fill="#bababa"/>
<rect x="160" y="350" width="20.5" height="10.5" fill="#d4d4d4"/>
<rect x="180" y="350" width="50.5" height="10.5" fill="#bababa"/>
<rect x="230" y="350" width="40.5" height="10.5" fill="#d4d4d4"/>
<rect x="270" y="350" width="10.5" height="10.5" fill="#bababa"/>
<rect x="280" y="350" width="10.5" height="10.5" fill="#d4d4d4"/>
<rect x="290" y="350" width="50.5" height="10.5" fill="#ebebeb"/>
<rect x="340" y="350" width="20.5" height="10.5" fill="#d4d4d4"/>
<rect x="360" y="350" width="20.5" height="10.5" fill="#bababa"/>
<rect x="380" y="350" width="20.5" height="10.5" fill="#a1a1a1"/>
<rect x="400" y="350" width="10.5" height="10.5" fill="#737373"/>
<rect x="410" y="350" width="10.5" height="10.5" fill="#5c5c5c"/>
<rect x="420" y="350" width="20.5" height="10.5" fill="#2e2e2e"/>
<rect x="440" y="350" width="10.5" height="10.5" fill="#424242"/>
<rect x="450" y="350" width="20.5" height="10.5" fill="#737373"/>
<rect x="470" y="350" width="10.5" height="10.5" fill="#8a8a8a"/>
<rect x="480" y="350" width="10.5" height="10.5" fill="#737373"/>
<rect x="490" y="350" width="10.5" height="10.5" fill="#5c5c5c"/>
<rect x="500" y="350" width="10.5" height="10.5" fill="#8a8a8a"/>
<rect x="510" y="350" width="10.5" height="10.5" fill="#bababa"/>
<rect x="520" y="350" width="10.5" height="10.5" fill="#ebebeb"/>
<rect x="530" y="350" width="50.5" height="10.5" fill="#fafafa"/>
<rect x="580" y="350" width="40.5" height="10.5" fill="#ebebeb"/>
<rect x="620" y="350" width="10.5" height="10.5" fill="#bababa"/>
<rect x="630" y="350" width="10.5" height="10.5" fill="#d2d2d2"/>
<rect x="640" y="350" width="10.5" height="10.5" fill="#d5d5d5"/>
<rect x="650" y="350" width="10.5" height="10.5" fill="#ebebeb"/>
<rect x="660" y="350" width="10.5" height="10.5" fill="#dcdcdc"/>
<rect x="670" y="350" width="30.5" height="10.5" fill="#d4d4d4"/>
<rect x="100" y="360" width="10.5" height="10.5" fill="#8d8d8d"/>
<rect x="110" y="360" width="10.5" height="10.5" fill="#bbbbbb"/>
<rect x="120" y="360" width="10.5" height="10.5" fill="#cbcbcb"/>
<rect x="130" y="360" width="40.5" height="10.5" fill="#bababa"/>
<rect x="170" y="360" width="10.5" height="10.5" fill="#a1a1a1"/>
<rect x="180" y="360" width="20.5" height="10.5" fill="#8a8a8a"/>
<rect x="200" y="360" width="30.5" height="10.5" fill="#a1a1a1"/>
<rect x="230" y="360" width="40.5" height="10.5" fill="#bababa"/>
<rect x="270" y="360" width="20.5" height="10.5" fill="#d4d4d4"/>
<rect x="290" y="360" width="10.5" height="10.5" fill="#ebebeb"/>
<rect x="300" y="360" width="20.5" height="10.5" fill="#d4d4d4"/>
<rect x="320" y="360" width="10.5" height="10.5" fill="#bababa"/>
<rect x="330" y="360" width="10.5" height="10.5" fill="#d4d4d4"/>
<rect x="340" y="360" width="20.5" height="10.5" fill="#bababa"/>
<rect x="360" y="360" width="10.5" height="10.5" fill="#a1a1a1"/>
<rect x="370" y="360" width="20.5" height="10.5" fill="#8a8a8a"/>
<rect x="390" y="360" width="10.5" height="10.5" fill="#737373"/>
<rect x="400" y="360" width="10.5" height="10.5" fill="#5c5c5c"/>
<rect x="410" y="360" width="10.5" height="10.5" fill="#424242"/>
<rect x="420" y="360" width="10.5" height="10.5" fill="#2e2e2e"/>
<rect x="430" y="360" width="10.5" height="10.5" fill="#424242"/>
<rect x="440" y="360" width="10.5" height="10.5" fill="#5c5c5c"/>
<rect x="450" y="360" width="10.5" height="10.5" fill="#8a8a8a"/>
<rect x="460" y="360" width="10.5" height="10.5" fill="#5c5c5c"/>
<rect x="470" y="360" width="10.5" height="10.5" fill="#737373"/>
<rect x="480" y="360" width="20.5" height="10.5" fill="#8a8a8a"/>
<rect x="500" y="360" width="10.5" height="10.5" fill="#bababa"/>
<rect x="510" y="360" width="10.5" height="10.5" fill="#d4d4d4"/>
<rect x="520" y="360" width="20.5" height="10.5" fill="#ebebeb"/>
<rect x="540" y="360" width="30.5" height="10.5" fill="#fafafa"/>
<rect x="570" y="360" width="20.5" height="10.5" fill="#ebebeb"/>
<rect x="590" y="360" width="10.5" height="10.5" fill="#d4d4d4"/>
<rect x="600" y="360" width="20.5" height="10.5" fill="#ebebeb"/>
<rect x="620" y="360" width="10.5" height="10.5" fill="#dadada"/>
<rect x="630" y="360" width="10.5" height="10.5" fill="#bababa"/>
<rect x="640" y="360" width="10.5" height="10.5" fill="#c6c6c6"/>
<rect x="650" y="360" width="10.5" height="10.5" fill="#d0d0d0"/>
<rect x="660" y="360" width="10.5" height="10.5" fill="#ebebeb"/>
<rect x="670" y="360" width="10.5" height="10.5" fill="#dbdbdb"/>
<rect x="680" y="360" width="20.5" height="10.5" fill="#d4d4d4"/>
<rect x="100" y="370" width="10.5" height="10.5" fill="#2e2e2e"/>
<rect x="110" y="370" width="10.5" height="10.5" fill="#7c7c7c"/>
<rect x="120" y="370" width="10.5" height="10.5" fill="#9b9b9b"/>
<rect x="130" y="370" width="10.5" height="10.5" fill="#d4d4d4"/>
<rect x="140" y="370" width="10.5" height="10.5" fill="#bababa"/>
<rect x="150" y="370" width="20.5" height="10.5" fill="#a1a1a1"/>
<rect x="170" y="370" width="10.5" height="10.5" fill="#8a8a8a"/>
<rect x="180" y="370" width="20.5" height="10.5" fill="#737373"/>
<rect x="200" y="370" width="40.5" height="10.5" fill="#8a8a8a"/>
<rect x="240" y="370" width="10.5" height="10.5" fill="#737373"/>
<rect x="250" y="370" width="20.5" height="10.5" fill="#a1a1a1"/>
<rect x="270" y="370" width="10.5" height="10.5" fill="#bababa"/>
<rect x="280" y="370" width="30.5" height="10.5" fill="#d4d4d4"/>
<rect x="310" y="370" width="10.5" height="10.5" fill="#bababa"/>
<rect x="320" y="370" width="30.5" height="10.5" fill="#a1a1a1"/>
<rect x="350" y="370" width="10.5" height="10.5" fill="#8a8a8a"/>
<rect x="360" y="370" width="10.5" height="10.5" fill="#737373"/>
<rect x="370" y="370" width="10.5" height="10.5" fill="#5c5c5c"/>
<rect x="380" y="370" width="10.5" height="10.5" fill="#424242"/>
<rect x="390" y="370" width="20.5" height="10.5" fill="#5c5c5c"/>
<rect x="410" y="370" width="10.5" height="10.5" fill="#424242"/>
<rect x="420" y="370" width="10.5" height="10.5" fill="#5c5c5c"/>
<rect x="430" y="370" width="10.5" height="10.5" fill="#737373"/>
<rect x="440" y="370" width="10.5" height="10.5" fill="#8a8a8a"/>
<rect x="450" y="370" width="10.5" height="10.5" fill="#737373"/>
<rect x="460" y="370" width="20.5" height="10.5" fill="#424242"/>
<rect x="480" y="370" width="10.5" height="10.5" fill="#737373"/>
<rect x="490" y="370" width="10.5" height="10.5" fill="#8a8a8a"/>
<rect x="500" y="370" width="10.5" height="10.5" fill="#a1a1a1"/>
<rect x="510" y="370" width="10.5" height="10.5" fill="#bababa"/>
<rect x="520" y="370" width="10.5" height="10.5" fill="#a1a1a1"/>
<rect x="530" y="370" width="10.5" height="10.5" fill="#bababa"/>
<rect x="540" y="370" width="10.5" height="10.5" fill="#d4d4d4"/>
<rect x="550" y="370" width="20.5" height="10.5" fill="#fafafa"/>
<rect x="570" y="370" width="60.5" height="10.5" fill="#ebebeb"/>
<rect x="630" y="370" width="10.5" height="10.5" fill="#d5d5d5"/>
<rect x="640" y="370" width="10.5" height="10.5" fill="#bababa"/>
<rect x="650" y="370" width="10.5" height="10.5" fill="#c0c0c0"/>
<rect x="660" y="370" width="10.5" height="10.5" fill="#cdcdcd"/>
<rect x="670" y="370" width="10.5" height="10.5" fill="#ebebeb"/>
<rect x="680" y="370" width="10.5" height="10.5" fill="#dbdbdb"/>
<rect x="690" y="370" width="10.5" height="10.5" fill="#d4d4d4"/>
<rect x="100" y="380" width="20.5" height="10.5" fill="#2e2e2e"/>
<rect x="120" y="380" width="10.5" height="10.5" fill="#5c5c5c"/>
<rect x="130" y="380" width="10.5" height="10.5" fill="#424242"/>
<rect x="140" y="380" width="30.5" height="10.5" fill="#5c5c5c"/>
<rect x="170" y="380" width="30.5" height="10.5" fill="#424242"/>
<rect x="200" y="380" width="10.5" height="10.5" fill="#2e2e2e"/>
<rect x="210" y="380" width="20.5" height="10.5" fill="#424242"/>
<rect x="230" y="380" width="20.5" height="10.5" fill="#5c5c5c"/>
<rect x="250" y="380" width="30.5" height="10.5" fill="#737373"/>
<rect x="280" y="380" width="10.5" height="10.5" fill="#8a8a8a"/>
<rect x="290" y="380" width="10.5" height="10.5" fill="#a1a1a1"/>
<rect x="300" y="380" width="10.5" height="10.5" fill="#bababa"/>
<rect x="310" y="380" width="10.5" height="10.5" fill="#a1a1a1"/>
<rect x="320" y="380" width="10.5" height="10.5" fill="#737373"/>
<rect x="330" y="380" width="20.5" height="10.5" fill="#424242"/>
<rect x="350" y="380" width="20.5" height="10.5" fill="#5c5c5c"/>
<rect x="370" y="380" width="10.5" height="10.5" fill="#424242"/>
<rect x="380" y="380" width="10.5" height="10.5" fill="#2e2e2e"/>
<rect x="390" y="380" width="40.5" height="10.5" fill="#5c5c5c"/>
<rect x="430" y="380" width="10.5" height="10.5" fill="#737373"/>
<rect x="440" y="380" width="10.5" height="10.5" fill="#8a8a8a"/>
<rect x="450" y="380" width="10.5" height="10.5" fill="#737373"/>
<rect x="460" y="380" width="10.5" height="10.5" fill="#2e2e2e"/>
<rect x="470" y="380" width="10.5" height="10.5" fill="#424242"/>
<rect x="480" y="380" width="10.5" height="10.5" fill="#5c5c5c"/>
<rect x="490" y="380" width="20.5" height="10.5" fill="#737373"/>
<rect x="510" y="380" width="10.5" height="10.5" fill="#8a8a8a"/>
<rect x="520" y="380" width="10.5" height="10.5" fill="#737373"/>
<rect x="530" y="380" width="10.5" height="10.5" fill="#8a8a8a"/>
<rect x="540" y="380" width="10.5" height="10.5" fill="#a1a1a1"/>
<rect x="550" y="380" width="10.5" height="10.5" fill="#d4d4d4"/>
<rect x="560" y="380" width="20.5" height="10.5" fill="#ebebeb"/>
<rect x="580" y="380" width="20.5" height="10.5" fill="#d4d4d4"/>
<rect x="600" y="380" width="10.5" height="10.5" fill="#e3e3e3"/>
<rect x="610" y="380" width="30.5" height="10.5" fill="#ebebeb"/>
<rect x="640" y="380" width="10.5" height="10.5" fill="#d3d3d3"/>
<rect x="650" y="380" width="10.5" height="10.5" fill="#bababa"/>
<rect x="660" y="380" width="10.5" height="10.5" fill="#bdbdbd"/>
<rect x="670" y="380" width="10.5" height="10.5" fill="#cccccc"/>
<rect x="680" y="380" width="10.5" height="10.5" fill="#ebebeb"/>
<rect x="690" y="380" width="10.5" height="10.5" fill="#dedede"/>
<rect x="100" y="390" width="100.5" height="10.5" fill="#2e2e2e"/>
<rect x="200" y="390" width="10.5" height="10.5" fill="#171717"/>
<rect x="210" y="390" width="20.5" height="10.5" fill="#2e2e2e"/>
<rect x="230" y="390" width="10.5" height="10.5" fill="#737373"/>
<rect x="240" y="390" width="20.5" height="10.5" fill="#5c5c5c"/>
<rect x="260" y="390" width="10.5" height="10.5" fill="#424242"/>
<rect x="270" y="390" width="20.5" height="10.5" fill="#171717"/>
<rect x="290" y="390" width="10.5" height="10.5" fill="#5c5c5c"/>
<rect x="300" y="390" width="10.5" height="10.5" fill="#8a8a8a"/>
<rect x="310" y="390" width="10.5" height="10.5" fill="#737373"/>
<rect x="320" y="390" width="10.5" height="10.5" fill="#5c5c5c"/>
<rect x="330" y="390" width="10.5" height="10.5" fill="#424242"/>
<rect x="340" y="390" width="10.5" height="10.5" fill="#5c5c5c"/>
<rect x="350" y="390" width="20.5" height="10.5" fill="#737373"/>
<rect x="370" y="390" width="10.5" height="10.5" fill="#5c5c5c"/>
<rect x="380" y="390" width="10.5" height="10.5" fill="#424242"/>
<rect x="390" y="390" width="20.5" height="10.5" fill="#5c5c5c"/>
<rect x="410" y="390" width="20.5" height="10.5" fill="#424242"/>
<rect x="430" y="390" width="20.5" height="10.5" fill="#737373"/>
<rect x="450" y="390" width="10.5" height="10.5" fill="#424242"/>
<rect x="460" y="390" width="10.5" height="10.5" fill="#2e2e2e"/>
<rect x="470" y="390" width="20.5" height="10.5" fill="#424242"/>
<rect x="490" y="390" width="10.5" height="10.5" fill="#5c5c5c"/>
<rect x="500" y="390" width="10.5" height="10.5" fill="#424242"/>
<rect x="510" y="390" width="10.5" height="10.5" fill="#2e2e2e"/>
<rect x="520" y="390" width="10.5" height="10.5" fill="#424242"/>
<rect x="530" y="390" width="10.5" height="10.5" fill="#5c5c5c"/>
<rect x="540" y="390" width="10.5" height="10.5" fill="#8a8a8a"/>
<rect x="550" y="390" width="10.5" height="10.5" fill="#bababa"/>
<rect x="560" y="390" width="50.5" height="10.5" fill="#d4d4d4"/>
<rect x="610" y="390" width="10.5" height="10.5" fill="#e0e0e0"/>
<rect x="620" y="390" width="30.5" height="10.5" fill="#ebebeb"/>
<rect x="650" y="390" width="10.5" height="10.5" fill="#d3d3d3"/>
<rect x="660" y="390" width="10.5" height="10.5" fill="#bababa"/>
<rect x="670" y="390" width="10.5" height="10.5" fill="#bcbcbc"/>
<rect x="680" y="390" width="10.5" height="10.5" fill="#cbcbcb"/>
<rect x="690" y="390" width="10.5" height="10.5" fill="#ebebeb"/>
<rect x="100" y="400" width="40.5" height="10.5" fill="#2e2e2e"/>
<rect x="140" y="400" width="30.5" height="10.5" fill="#171717"/>
<rect x="170" y="400" width="40.5" height="10.5" fill="#2e2e2e"/>
<rect x="210" y="400" width="10.5" height="10.5" fill="#424242"/>
<rect x="220" y="400" width="10.5" height="10.5" fill="#2e2e2e"/>
<rect x="230" y="400" width="30.5" height="10.5" fill="#5c5c5c"/>
<rect x="260" y="400" width="10.5" height="10.5" fill="#424242"/>
<rect x="270" y="400" width="20.5" height="10.5" fill="#2e2e2e"/>
<rect x="290" y="400" width="10.5" height="10.5" fill="#545454"/>
<rect x="300" y="400" width="10.5" height="10.5" fill="#676767"/>
<rect x="310" y="400" width="10.5" height="10.5" fill="#424242"/>
<rect x="320" y="400" width="10.5" height="10.5" fill="#4d4d4d"/>
<rect x="330" y="400" width="10.5" height="10.5" fill="#2e2e2e"/>
<rect x="340" y="400" width="10.5" height="10.5" fill="#505050"/>
<rect x="350" y="400" width="20.5" height="10.5" fill="#6b6b6b"/>
<rect x="370" y="400" width="10.5" height="10.5" fill="#5b5b5b"/>
<rect x="380" y="400" width="10.5" height="10.5" fill="#535353"/>
<rect x="390" y="400" width="10.5" height="10.5" fill="#555555"/>
<rect x="400" y="400" width="10.5" height="10.5" fill="#5c5c5c"/>
<rect x="410" y="400" width="10.5" height="10.5" fill="#424242"/>
<rect x="420" y="400" width="10.5" height="10.5" fill="#171717"/>
<rect x="430" y="400" width="10.5" height="10.5" fill="#525252"/>
<rect x="440" y="400" width="10.5" height="10.5" fill="#5c5c5c"/>
<rect x="450" y="400" width="20.5" height="10.5" fill="#424242"/>
<rect x="470" y="400" width="30.5" height="10.5" fill="#5c5c5c"/>
<rect x="500" y="400" width="30.5" height="10.5" fill="#424242"/>
<rect x="530" y="400" width="10.5" height="10.5" fill="#5c5c5c"/>
<rect x="540" y="400" width="10.5" height="10.5" fill="#7f7f7f"/>
<rect x="550" y="400" width="10.5" height="10.5" fill="#b3b3b3"/>
<rect x="560" y="400" width="10.5" height="10.5" fill="#cbcbcb"/>
<rect x="570" y="400" width="50.5" height="10.5" fill="#d4d4d4"/>
<rect x="620" y="400" width="10.5" height="10.5" fill="#e0e0e0"/>
<rect x="630" y="400" width="30.5" height="10.5" fill="#ebebeb"/>
<rect x="660" y="400" width="10.5" height="10.5" fill="#d2d2d2"/>
<rect x="670" y="400" width="10.5" height="10.5" fill="#bababa"/>
<rect x="680" y="400" width="10.5" height="10.5" fill="#bbbbbb"/>
<rect x="690" y="400" width="10.5" height="10.5" fill="#cbcbcb"/>
<rect x="100" y="410" width="30.5" height="10.5" fill="#2e2e2e"/>
<rect x="130" y="410" width="10.5" height="10.5" fill="#262626"/>
<rect x="140" y="410" width="10.5" height="10.5" fill="#1f1f1f"/>
<rect x="150" y="410" width="10.5" height="10.5" fill="#171717"/>
<rect x="160" y="410" width="10.5" height="10.5" fill="#1f1f1f"/>
<rect x="170" y="410" width="10.5" height="10.5" fill="#262626"/>
<rect x="180" y="410" width="20.5" height="10.5" fill="#2e2e2e"/>
<rect x="200" y="410" width="10.5" height="10.5" fill="#3e3e3e"/>
<rect x="210" y="410" width="10.5" height="10.5" fill="#5c5c5c"/>
<rect x="220" y="410" width="10.5" height="10.5" fill="#424242"/>
<rect x="230" y="410" width="10.5" height="10.5" fill="#4a4a4a"/>
<rect x="240" y="410" width="10.5" height="10.5" fill="#5c5c5c"/>
<rect x="250" y="410" width="10.5" height="10.5" fill="#535353"/>
<rect x="260" y="410" width="10.5" height="10.5" fill="#444444"/>
<rect x="270" y="410" width="10.5" height="10.5" fill="#383838"/>
<rect x="280" y="410" width="10.5" height="10.5" fill="#2e2e2e"/>
<rect x="290" y="410" width="10.5" height="10.5" fill="#454545"/>
<rect x="300" y="410" width="20.5" height="10.5" fill="#424242"/>
<rect x="320" y="410" width="10.5" height="10.5" fill="#383838"/>
<rect x="330" y="410" width="20.5" height="10.5" fill="#2e2e2e"/>
<rect x="350" y="410" width="10.5" height="10.5" fill="#555555"/>
<rect x="360" y="410" width="10.5" height="10.5" fill="#666666"/>
<rect x="370" y="410" width="10.5" height="10.5" fill="#5e5e5e"/>
<rect x="380" y="410" width="10.5" height="10.5" fill="#585858"/>
<rect x="390" y="410" width="10.5" height="10.5" fill="#5c5c5c"/>
<rect x="400" y="410" width="10.5" height="10.5" fill="#4f4f4f"/>
<rect x="410" y="410" width="10.5" height="10.5" fill="#3c3c3c"/>
<rect x="420" y="410" width="10.5" height="10.5" fill="#2d2d2d"/>
<rect x="430" y="410" width="10.5" height="10.5" fill="#393939"/>
<rect x="440" y="410" width="10.5" height="10.5" fill="#4b4b4b"/>
<rect x="450" y="410" width="20.5" height="10.5" fill="#424242"/>
<rect x="470" y="410" width="10.5" height="10.5" fill="#4f4f4f"/>
<rect x="480" y="410" width="20.5" height="10.5" fill="#5c5c5c"/>
<rect x="500" y="410" width="10.5" height="10.5" fill="#4f4f4f"/>
<rect x="510" y="410" width="10.5" height="10.5" fill="#424242"/>
<rect x="520" y="410" width="10.5" height="10.5" fill="#4b4b4b"/>
<rect x="530" y="410" width="10.5" height="10.5" fill="#4f4f4f"/>
<rect x="540" y="410" width="10.5" height="10.5" fill="#5c5c5c"/>
<rect x="550" y="410" width="10.5" height="10.5" fill="#969696"/>
<rect x="560" y="410" width="10.5" height="10.5" fill="#c6c6c6"/>
<rect x="570" y="410" width="10.5" height="10.5" fill="#d1d1d1"/>
<rect x="580" y="410" width="50.5" height="10.5" fill="#d4d4d4"/>
<rect x="630" y="410" width="10.5" height="10.5" fill="#dfdfdf"/>
<rect x="640" y="410" width="30.5" height="10.5" fill="#ebebeb"/>
<rect x="670" y="410" width="10.5" height="10.5" fill="#d2d2d2"/>
<rect x="680" y="410" width="10.5" height="10.5" fill="#bababa"/>
<rect x="690" y="410" width="10.5" height="10.5" fill="#bbbbbb"/>
<rect x="100" y="420" width="20.5" height="10.5" fill="#2e2e2e"/>
<rect x="120" y="420" width="10.5" height="10.5" fill="#2b2b2b"/>
<rect x="130" y="420" width="10.5" height="10.5" fill="#262626"/>
<rect x="140" y="420" width="10.5" height="10.5" fill="#1f1f1f"/>
<rect x="150" y="420" width="10.5" height="10.5" fill="#1c1c1c"/>
<rect x="160" y="420" width="10.5" height="10.5" fill="#1f1f1f"/>
<rect x="170" y="420" width="10.5" height="10.5" fill="#262626"/>
<rect x="180" y="420" width="10.5" height="10.5" fill="#2b2b2b"/>
<rect x="190" y="420" width="10.5" height="10.5" fill="#3e3e3e"/>
<rect x="200" y="420" width="10.5" height="10.5" fill="#5c5c5c"/>
<rect x="210" y="420" width="20.5" height="10.5" fill="#4f4f4f"/>
<rect x="230" y="420" width="10.5" height="10.5" fill="#424242"/>
<rect x="240" y="420" width="10.5" height="10.5" fill="#4f4f4f"/>
<rect x="250" y="420" width="10.5" height="10.5" fill="#515151"/>
<rect x="260" y="420" width="10.5" height="10.5" fill="#454545"/>
<rect x="270" y="420" width="10.5" height="10.5" fill="#393939"/>
<rect x="280" y="420" width="10.5" height="10.5" fill="#333333"/>
<rect x="290" y="420" width="10.5" height="10.5" fill="#383838"/>
<rect x="300" y="420" width="10.5" height="10.5" fill="#424242"/>
<rect x="310" y="420" width="10.5" height="10.5" fill="#3f3f3f"/>
<rect x="320" y="420" width="10.5" height="10.5" fill="#383838"/>
<rect x="330" y="420" width="10.5" height="10.5" fill="#313131"/>
<rect x="340" y="420" width="20.5" height="10.5" fill="#2e2e2e"/>
<rect x="360" y="420" width="10.5" height="10.5" fill="#525252"/>
<rect x="370" y="420" width="10.5" height="10.5" fill="#5e5e5e"/>
<rect x="380" y="420" width="10.5" height="10.5" fill="#5c5c5c"/>
<rect x="390" y="420" width="10.5" height="10.5" fill="#555555"/>
<rect x="400" y="420" width="10.5" height="10.5" fill="#4d4d4d"/>
<rect x="410" y="420" width="10.5" height="10.5" fill="#3d3d3d"/>
<rect x="420" y="420" width="10.5" height="10.5" fill="#363636"/>
<rect x="430" y="420" width="10.5" height="10.5" fill="#3d3d3d"/>
<rect x="440" y="420" width="40.5" height="10.5" fill="#424242"/>
<rect x="480" y="420" width="30.5" height="10.5" fill="#5c5c5c"/>
<rect x="510" y="420" width="10.5" height="10.5" fill="#4e4e4e"/>
<rect x="520" y="420" width="10.5" height="10.5" fill="#494949"/>
<rect x="530" y="420" width="10.5" height="10.5" fill="#525252"/>
<rect x="540" y="420" width="10.5" height="10.5" fill="#555555"/>
<rect x="550" y="420" width="10.5" height="10.5" fill="#5c5c5c"/>
<rect x="560" y="420" width="10.5" height="10.5" fill="#a2a2a2"/>
<rect x="570" y="420" width="10.5" height="10.5" fill="#cecece"/>
<rect x="580" y="420" width="10.5" height="10.5" fill="#d3d3d3"/>
<rect x="590" y="420" width="50.5" height="10.5" fill="#d4d4d4"/>
<rect x="640" y="420" width="10.5" height="10.5" fill="#dfdfdf"/>
<rect x="650" y="420" width="30.5" height="10.5" fill="#ebebeb"/>
<rect x="680" y="420" width="10.5" height="10.5" fill="#d2d2d2"/>
<rect x="690" y="420" width="10.5" height="10.5" fill="#bababa"/>
<rect x="100" y="430" width="10.5" height="10.5" fill="#2e2e2e"/>
<rect x="110" y="430" width="10.5" height="10.5" fill="#2d2d2d"/>
<rect x="120" y="430" width="10.5" height="10.5" fill="#2a2a2a"/>
<rect x="130" y="430" width="10.5" height="10.5" fill="#252525"/>
<rect x="140" y="430" width="10.5" height="10.5" fill="#202020"/>
<rect x="150" y="430" width="10.5" height="10.5" fill="#1e1e1e"/>
<rect x="160" y="430" width="10.5" height="10.5" fill="#202020"/>
<rect x="170" y="430" width="10.5" height="10.5" fill="#252525"/>
<rect x="180" y="430" width="10.5" height="10.5" fill="#3b3b3b"/>
<rect x="190" y="430" width="10.5" height="10.5" fill="#5c5c5c"/>
<rect x="200" y="430" width="10.5" height="10.5" fill="#555555"/>
<rect x="210" y="430" width="10.5" height="10.5" fill="#535353"/>
<rect x="220" y="430" width="10.5" height="10.5" fill="#4b4b4b"/>
<rect x="230" y="430" width="10.5" height="10.5" fill="#494949"/>
<rect x="240" y="430" width="10.5" height="10.5" fill="#424242"/>
<rect x="250" y="430" width="10.5" height="10.5" fill="#4a4a4a"/>
<rect x="260" y="430" width="10.5" height="10.5" fill="#454545"/>
<rect x="270" y="430" width="10.5" height="10.5" fill="#3b3b3b"/>
<rect x="280" y="430" width="10.5" height="10.5" fill="#373737"/>
<rect x="290" y="430" width="10.5" height="10.5" fill="#3a3a3a"/>
<rect x="300" y="430" width="20.5" height="10.5" fill="#3e3e3e"/>
<rect x="320" y="430" width="10.5" height="10.5" fill="#383838"/>
<rect x="330" y="430" width="10.5" height="10.5" fill="#323232"/>
<rect x="340" y="430" width="10.5" height="10.5" fill="#2f2f2f"/>
<rect x="350" y="430" width="20.5" height="10.5" fill="#2e2e2e"/>
<rect x="370" y="430" width="10.5" height="10.5" fill="#5c5c5c"/>
<rect x="380" y="430" width="10.5" height="10.5" fill="#595959"/>
<rect x="390" y="430" width="10.5" height="10.5" fill="#555555"/>
<rect x="400" y="430" width="10.5" height="10.5" fill="#4b4b4b"/>
<rect x="410" y="430" width="10.5" height="10.5" fill="#404040"/>
<rect x="420" y="430" width="10.5" height="10.5" fill="#3d3d3d"/>
<rect x="430" y="430" width="40.5" height="10.5" fill="#424242"/>
<rect x="470" y="430" width="10.5" height="10.5" fill="#4b4b4b"/>
<rect x="480" y="430" width="10.5" height="10.5" fill="#535353"/>
<rect x="490" y="430" width="30.5" height="10.5" fill="#5c5c5c"/>
<rect x="520" y="430" width="10.5" height="10.5" fill="#515151"/>
<rect x="530" y="430" width="10.5" height="10.5" fill="#505050"/>
<rect x="540" y="430" width="10.5" height="10.5" fill="#565656"/>
<rect x="550" y="430" width="10.5" height="10.5" fill="#595959"/>
<rect x="560" y="430" width="10.5" height="10.5" fill="#5c5c5c"/>
<rect x="570" y="430" width="10.5" height="10.5" fill="#a8a8a8"/>
<rect x="580" y="430" width="10.5" height="10.5" fill="#d1d1d1"/>
<rect x="590" y="430" width="10.5" height="10.5" fill="#d3d3d3"/>
<rect x="600" y="430" width="50.5" height="10.5" fill="#d4d4d4"/>
<rect x="650" y="430" width="10.5" height="10.5" fill="#dfdfdf"/>
<rect x="660" y="430" width="30.5" height="10.5" fill="#ebebeb"/>
<rect x="690" y="430" width="10.5" height="10.5" fill="#d2d2d2"/>
</g></g>
<g clip-path="url(#isl)"><path d="M170.4 202.2L174.1 207.3L178.6 211.0L182.3 214.6L183.7 219.2L184.5 221.9L185.9 227.4L188.1 232.9L190.5 238.4L192.9 243.0L194.2 245.7M184.1 221.6L179.5 223.4L174.1 227.4L168.6 232.0L163.1 236.6L160.3 241.1L158.9 246.6L158.1 253.0L158.1 258.5L157.6 264.0L157.1 269.5L156.7 272.2M149.4 239.3L152.1 243.9L155.2 247.5L158.9 245.3M121.6 251.7L125.6 260.3L131.1 267.7L137.5 274.1L139.3 275.9M121.9 280.5L129.3 278.6L139.3 275.9L147.5 273.1L156.7 272.2L164.0 272.2L173.1 273.5L180.5 275.9L186.9 279.5L189.6 282.3L191.4 285.9L195.1 287.8L202.4 288.7L209.7 289.6L213.4 290.5L220.7 292.3L228.0 294.2L236.2 296.9M189.6 282.3L188.7 286.9L185.9 291.4L180.5 294.2L175.0 296.9L167.7 298.4L162.2 299.1L156.7 297.3L153.9 293.6L149.4 290.0L143.0 286.3L137.5 284.1M180.5 294.2L183.2 299.7L185.9 305.1L190.5 309.7L195.1 314.3L199.7 320.0M194.2 245.7L191.4 251.2L190.0 256.7L189.6 262.2L190.5 267.7L189.6 273.1L187.8 278.6L187.4 280.1M194.2 245.7L200.6 247.2L207.9 247.9L215.2 249.0L221.6 249.7L226.2 248.1M217.0 208.2L218.9 214.6L217.0 220.1L215.2 223.8L218.9 227.4L221.6 232.0L224.3 236.6L226.2 241.1L228.0 244.8L226.2 248.1L230.7 250.3L235.3 253.9L239.9 255.8M238.1 211.3L238.4 218.3L238.6 227.4L239.0 236.6L239.3 245.7L239.9 255.8L239.0 260.3L237.5 267.7L236.8 275.0L236.2 282.3L235.7 289.6L236.2 296.9L235.3 304.2L234.4 309.7L236.2 315.2L237.1 320.0M239.9 255.8L246.3 258.1L253.6 260.3L260.0 262.2M236.2 314.8L228.0 314.3L218.9 315.6L211.5 317.0L206.1 320.0M261.8 211.0L262.7 218.3L264.0 225.6L265.1 232.9L266.4 242.1L267.7 251.2L266.9 258.5L264.0 263.1L263.3 271.3L263.7 278.6L264.0 285.9L263.7 293.3L264.6 299.7L267.3 304.6L271.0 301.5L275.5 298.7L280.1 300.6L283.8 305.1L289.3 307.9L296.6 308.8L303.9 309.7L309.4 312.5L313.0 317.0L313.9 320.0M260.0 263.6L264.0 263.1M283.8 213.2L283.4 221.9L283.2 232.9L282.9 243.9L282.9 254.9L282.5 264.0L282.3 271.7L263.7 271.7M282.3 270.9L287.4 266.7L292.9 264.0L297.5 263.1L299.3 266.7L301.1 271.3L303.9 273.1L309.4 272.8L314.9 271.7L322.2 270.9L329.5 269.9L336.8 268.6L340.5 268.0L345.9 264.9L355.1 264.0L362.4 262.2L367.9 259.4L375.2 256.7L382.5 254.9L388.9 253.9L395.3 253.0L402.6 252.7L406.3 253.9L411.8 256.7L416.3 260.3L418.2 264.0L420.0 263.1M349.2 211.9L348.7 218.3L348.1 225.6L347.4 232.9L345.9 240.2L346.9 247.5L347.8 253.0L346.9 258.5L345.9 264.0L343.2 266.7M365.1 212.8L365.7 218.3L364.6 223.8L366.1 227.4L367.0 232.0L362.4 234.7L361.5 239.3L363.3 245.7L365.1 253.0L366.1 258.5L365.1 260.9M346.9 243.9L351.4 240.6L356.9 238.4L361.5 238.8M396.2 213.2L396.2 221.9L395.7 231.1L395.3 240.2L394.9 247.5L394.8 253.0M388.9 253.9L389.5 260.3L390.7 267.7L391.7 275.0L390.7 282.3L389.8 287.8L391.7 293.3L393.5 296.0L399.0 295.1L406.3 293.3L413.6 289.6L417.3 285.0L420.0 280.5M393.5 296.0L388.0 297.8L380.7 298.7L375.2 299.7L372.5 304.2L371.5 311.5L370.6 320.0M340.5 268.0L344.1 270.4L347.8 273.1L350.5 277.7L353.3 281.4L355.1 285.9L356.0 291.4L355.1 296.9L356.0 302.4L358.7 307.9L362.4 311.5L365.1 315.2L366.1 320.0M350.5 277.7L349.6 282.3L346.9 285.0L343.2 285.9L342.3 291.4L340.5 298.7L339.5 301.5L335.9 299.7L333.1 304.2L330.4 309.7L328.6 315.2L327.7 320.0M428.2 213.2L427.7 220.1L426.9 227.4L425.5 234.7L423.7 242.1L421.8 249.4L420.0 253.0M440.1 215.5L441.0 221.9L441.9 229.3L442.9 236.6L443.4 243.9L443.8 249.0M420.0 272.2L421.8 268.6L423.7 263.1L427.3 258.5L432.8 255.8L438.3 253.0L443.8 249.0L450.2 247.2L456.6 245.7L463.9 244.3L471.2 243.9L478.5 245.7L480.3 246.6M427.3 258.5L434.6 255.8L441.9 256.7L447.4 260.3L450.2 265.8L451.1 269.5L450.2 276.8L449.3 284.1L447.4 291.4L442.9 296.9L436.5 299.7L430.1 300.9L426.4 297.8L422.7 291.4L420.9 284.1L420.0 278.6M451.1 269.5L456.6 269.1L463.9 268.6L469.4 269.1L474.9 269.5L477.6 270.4M459.3 217.4L458.8 223.8L459.3 231.1L461.1 238.4L463.3 244.3M493.1 221.9L492.2 225.6L491.3 231.1L488.6 233.8L483.1 235.7L480.7 240.2L480.3 246.6L480.0 253.0L479.4 260.3L478.9 267.7L477.6 270.4L477.1 276.8L477.6 282.3L479.4 286.9L483.1 289.6M483.1 289.6L489.5 287.8L496.8 285.9L504.1 285.6L511.4 285.0L518.7 283.2L523.3 280.5L526.1 278.6M483.1 289.6L482.2 293.3L484.9 298.7L488.6 304.2L492.2 307.9L498.6 309.7L500.5 315.2L501.4 320.0M483.1 289.6L476.7 290.5L471.2 292.3L466.6 295.1L462.1 297.8L456.6 299.7L449.3 299.7L442.9 297.3M456.6 300.2L456.2 306.1L456.6 313.4L457.5 320.0M505.9 225.6L506.9 231.1L505.6 236.6L505.9 243.9L505.0 249.4L501.9 252.1L500.5 256.7L500.1 264.0L500.5 271.3L501.4 278.6L502.7 285.6M515.1 230.2L514.7 236.6L515.1 243.9L516.0 250.3L516.9 256.7L517.8 264.0L518.7 271.3L520.2 276.8L522.0 281.4M526.1 278.6L529.7 277.7L535.2 276.8L537.0 273.1L536.7 265.8L537.0 258.5L538.9 253.0L546.2 250.8L550.7 247.9M534.3 223.8L537.0 230.2L542.5 234.7L548.0 239.3L550.7 243.9L550.7 247.9L554.4 254.9L558.1 262.2L561.7 269.5L566.3 276.8L571.8 284.1L576.3 289.6L580.0 291.4M535.2 276.8L544.3 278.6L555.3 278.3L564.5 276.8L566.3 276.8M526.1 278.6L525.1 285.9M544.3 278.6L545.3 285.9M420.0 295.1L422.7 299.7L425.5 305.1L426.4 311.5L425.5 317.0L423.7 320.0M569.6 225.4L573.6 231.0L576.0 235.8L577.6 239.0L574.1 243.8L576.0 248.6L578.4 253.4L579.2 259.8L580.8 266.2L580.0 272.6L578.9 279.0L580.5 285.4L581.6 289.9M577.6 239.0L584.0 238.7L590.4 239.0L593.6 240.3L592.8 245.4L591.2 251.0L592.8 256.6L593.6 263.0L594.4 269.4L595.5 275.8L597.6 280.6L600.0 285.4L603.2 289.4L605.6 291.8M606.4 235.8L603.2 240.6L599.2 246.2L596.0 250.2L592.8 252.6M577.6 288.9L581.6 289.9L587.2 291.8M605.6 291.8L611.2 286.2L616.0 283.0L620.8 281.4L624.8 283.0L628.8 285.4L631.2 284.6M631.2 251.8L630.4 256.6L632.8 263.0L633.6 269.4L632.8 274.2L634.4 278.2L632.0 282.2L631.2 284.6M634.4 278.2L640.0 280.6L644.8 278.2L649.6 274.2L654.4 271.0L658.4 267.8L660.8 261.4L662.4 256.6M631.2 284.6L633.6 287.8L640.0 290.2L646.4 289.4L652.8 287.0L659.2 285.4L665.6 283.8L672.0 285.4L676.8 287.0M656.0 286.2L657.6 291.8L659.2 298.2L657.6 304.6L662.4 307.8L665.6 311.0L670.4 315.0L675.2 315.8M143.0 330.1L151.2 332.9L160.3 331.9L167.7 331.0L173.1 330.1L176.8 327.4L185.9 325.5L193.3 322.8L202.4 319.1L209.7 316.4L217.0 315.5L226.2 318.2L235.3 321.0L244.5 322.8L251.8 325.5L257.3 326.5L260.0 325.5M193.3 310.0L196.9 315.5L202.4 319.1M236.2 310.0L237.1 315.5L239.0 321.3M151.2 332.9L154.9 339.3L160.3 345.7L165.8 349.3L168.6 352.1M173.1 330.1L172.2 335.6L173.1 341.1L175.0 346.6L172.2 349.3L168.6 352.1L168.0 359.4L166.7 366.7L165.5 374.0L164.9 381.3L165.5 388.6L166.2 395.9L166.7 401.4L167.3 406.0M166.7 367.6L173.1 365.8L180.5 364.9L189.6 365.8L196.9 366.7L204.2 368.5L209.7 372.2L213.4 374.9L218.9 376.7L228.0 378.6L235.3 380.4L242.6 381.3M209.7 372.2L209.3 364.9L208.8 357.5L209.7 350.2L211.5 342.9L213.4 337.4L217.0 335.6L224.3 334.7L229.8 333.8M257.3 326.5L255.4 329.2L251.8 331.9L244.5 333.8L237.1 332.9L229.8 333.8L231.7 341.1L233.5 348.4L235.3 355.7L237.1 363.0L239.0 370.3L241.7 376.7L242.6 381.3L246.3 386.8L249.9 392.3L251.4 399.6L251.8 406.9M218.9 376.7L217.9 383.1L216.7 390.5L214.3 396.9L211.5 403.3L209.7 407.8M260.0 313.7L261.8 321.0L263.7 328.3L265.5 333.8L269.1 337.4L273.7 340.2L278.3 341.1L283.8 342.0L287.4 345.7L292.9 347.5L298.4 345.7L301.1 342.9L305.7 342.0L311.2 341.1L314.9 337.4L317.6 331.9L320.3 328.3L324.0 326.5L325.8 321.0L327.7 315.5L330.4 310.0M310.3 310.0L312.1 315.5L314.9 321.0L317.6 326.5L318.5 330.1M273.7 340.2L271.9 346.6L270.1 353.9L267.3 361.2L265.5 368.5L264.6 375.8L263.7 383.1L262.7 390.5L260.9 397.8L260.0 401.4M283.8 342.0L284.7 348.4L283.8 355.7L282.9 363.0L283.8 368.5L287.4 370.3L292.0 372.2L294.7 374.0L293.8 379.5L294.7 383.1L291.1 386.8L287.4 389.5M311.2 341.1L313.9 348.4L314.9 355.7L314.5 363.0L313.0 370.3L311.2 377.7L310.3 385.0L309.4 392.3L308.5 396.9M324.0 326.5L333.1 328.3L340.5 327.4L347.8 328.3L353.3 331.9L356.0 335.6L355.1 342.9L356.9 350.2L359.7 357.5L360.6 364.9L361.5 372.2L363.3 379.5L364.2 386.8L363.3 392.3L362.4 397.8M356.0 335.6L361.5 331.9L364.2 328.3L367.9 324.6L369.7 319.1L371.5 313.7L372.5 310.0M364.2 328.3L369.7 330.1L377.0 328.3L384.3 326.5L391.7 325.5L399.0 327.4L406.3 328.3L413.6 327.4L420.0 325.5M367.9 333.8L367.0 341.1L368.8 346.6L371.5 352.1L372.5 357.5L376.1 357.9L377.0 353.9L382.5 354.8L389.8 357.5L397.1 358.5L400.8 356.6M399.0 327.4L401.7 333.8L402.6 341.1L401.7 348.4L400.8 356.6L399.9 364.9L400.8 372.2L401.7 379.5L400.8 385.0L398.1 390.5L395.3 394.1M401.7 373.1L408.1 374.0L415.4 374.9L420.0 375.8M420.0 325.5L425.5 327.4L431.0 329.2L436.5 331.9L440.1 332.9L443.8 329.2L449.3 327.4L454.7 325.5L460.2 325.5L463.9 322.8L467.5 321.0L473.0 321.9L474.9 319.1L476.7 315.5L478.5 310.0M456.6 310.0L458.4 315.5L460.2 321.0L461.1 325.5M440.1 332.9L439.2 339.3L438.3 342.9L443.8 346.6L449.3 351.1L454.7 355.7L459.3 359.4L463.0 357.5L467.5 354.8L470.3 353.0M459.3 359.4L452.9 363.0L447.4 366.7L442.9 372.2L440.1 377.7L436.5 383.1L433.7 388.6L431.9 394.1L432.8 398.7M420.0 375.8L425.5 377.7L431.0 381.3L435.5 384.1M473.9 321.9L474.9 326.5L473.0 330.1L472.1 335.6L473.0 341.1L472.1 346.6L470.3 353.0L474.9 357.5L478.5 362.1L479.4 366.7L480.3 370.3L485.8 369.4L491.3 367.6M491.3 367.6L487.7 373.1L483.1 377.7L479.4 382.2L478.5 388.6L478.1 395.9L478.5 403.3L479.4 408.7M491.3 367.6L496.8 371.3L501.4 373.1M523.8 290.0L522.9 297.3L520.1 304.6L514.6 309.2L507.3 312.9L500.0 314.7M511.0 313.8L512.8 321.1L515.5 328.4L520.1 333.0L523.8 335.7L526.5 340.3L529.3 345.8L532.0 348.5M512.8 321.1L513.7 330.2L509.1 336.6L503.7 338.5L500.0 337.5M544.8 290.0L543.9 297.3L545.3 304.6L548.5 308.3L554.9 307.4L562.2 306.5L566.7 305.5L568.6 301.0L570.4 296.4L574.1 292.7L576.8 290.0M548.5 308.3L546.6 315.6L543.9 322.0L541.1 328.4L539.3 334.8L536.6 341.2L533.8 345.8L532.0 348.5M566.7 305.5L568.6 311.9L572.2 317.4L574.1 323.8L573.1 330.2L574.1 337.5L575.0 343.0M576.8 290.0L585.9 293.7L595.1 297.3L599.7 299.1L596.9 305.5L592.3 311.0L587.8 316.5L584.1 322.0L580.5 326.6L577.7 332.1L575.9 338.5L575.0 343.0M599.7 299.1L604.2 294.6L609.7 290.0M607.9 290.0L609.7 297.3L608.8 304.6L609.7 311.9L611.5 315.6L618.9 314.7L626.2 315.2L631.7 317.8L634.4 322.5L637.1 327.5M611.5 315.6L607.9 322.0L602.4 326.6L599.7 332.1L596.9 338.5L594.2 343.0L592.3 344.9M575.0 343.0L580.5 343.9L585.9 343.0L592.3 344.9L596.9 347.6L600.6 348.5L605.1 351.3L609.7 355.8L613.4 360.4L617.0 363.1L618.9 366.8M532.0 348.5L536.6 349.4L542.1 352.2L544.8 356.7L546.6 360.4L553.0 356.7L560.3 355.8L567.7 354.0L572.2 350.3L575.0 345.8L575.0 343.0M546.6 360.4L549.4 365.9L554.9 369.5L561.3 372.3L569.5 374.1L576.8 374.5L584.1 376.3L591.4 380.0L599.7 381.1L607.0 376.9M561.3 372.3L563.1 377.8L564.9 384.2L566.7 390.6L568.6 397.0M532.0 348.5L527.4 353.1L522.9 358.6L519.2 365.0L518.3 370.5L519.2 375.9L517.4 380.5L520.1 385.1L522.9 389.7L524.7 395.1L525.6 399.7L530.2 404.3L533.8 405.2M517.4 380.5L522.9 377.8L529.3 376.9L533.8 379.6L534.7 385.1L536.6 390.6L539.3 395.1L541.1 397.9L536.6 401.5L533.8 405.2M514.6 348.9L523.8 348.9L532.0 348.5M500.0 375.0L503.7 370.5L506.4 363.1L505.5 355.8L508.2 352.2L514.6 348.9" fill="none" stroke="#000" stroke-width="1.3" stroke-linejoin="round" stroke-linecap="round"/></g>
<g filter="url(#rough)"><path d="M151.2 320.0L149.4 317.0L148.4 311.5L145.7 307.9L143.9 302.4L141.1 296.9L139.3 291.4L136.6 285.9L134.7 282.3L127.4 281.4L121.9 280.4L118.3 272.2L115.5 268.6L111.9 263.1L109.5 257.6L110.1 254.5L114.6 253.0L121.9 250.3L129.3 246.6L136.6 243.0L143.9 239.3L149.0 236.6L149.4 232.0L147.5 225.6L146.6 220.1L145.7 213.7L148.4 209.1L154.8 205.5L162.2 202.7L170.4 201.5L180.4 201.5L191.4 200.9L198.6 201.9L206.8 205.3L215.0 208.7L226.0 210.8L237.0 211.7L250.0 210.8L260.0 211.0L267.3 210.0L278.3 210.0L283.8 213.7L291.0 215.5L299.3 215.5L305.7 212.8L314.8 211.0L324.0 210.0L333.0 209.1L342.3 210.0L349.6 211.3L355.0 211.0L364.2 211.9L369.7 213.7L378.8 215.5L388.0 217.4L394.4 217.4L397.1 212.8L404.4 210.0L413.6 210.0L420.0 210.6L420.0 211.9L429.1 212.8L438.3 214.3L447.4 215.5L456.6 216.1L465.7 217.4L474.8 218.6L483.1 218.3L484.9 216.1L486.7 218.3L492.2 222.9L498.6 221.0L501.4 216.8L502.6 221.0L505.9 225.6L510.5 227.4L515.1 230.2L519.6 227.4L513.2 222.9L505.9 218.3L515.1 219.2L524.2 221.0L533.3 223.4L542.5 226.0L548.0 225.6L551.6 222.3L558.9 223.4L566.3 224.1L575.4 226.0L580.0 227.1L580.0 224.7L589.1 227.4L598.3 230.2L609.3 233.8L618.4 236.6L621.1 234.7L624.8 236.2L628.4 239.3L633.0 244.8L640.0 248.5L646.7 246.8L650.1 251.8L655.1 255.2L661.8 256.8L668.5 255.2L671.9 251.0L674.4 253.5L677.8 251.0L680.3 247.6L682.3 248.5L681.1 254.3L679.4 258.5L676.9 261.9L676.1 266.1L677.8 270.3L676.6 275.3L677.2 280.3L676.1 285.4L677.8 288.7L676.9 292.9L681.1 295.4L684.5 294.6L687.8 299.6L690.3 303.8L689.5 307.2L685.3 308.0L686.1 311.4L682.8 312.2L677.8 310.5L676.1 313.9L672.7 316.4L668.5 315.6L665.2 313.1L660.1 315.6L655.9 318.1L654.5 320.0L652.6 321.4L647.6 320.6L643.4 324.0L638.5 327.3L633.0 332.8L627.5 340.1L624.8 347.4L623.9 353.8L621.1 359.3L619.3 365.7L613.8 367.5L607.4 372.1L608.3 378.5L607.4 383.1L601.9 384.0L596.5 387.6L591.0 390.4L585.5 393.1L580.0 395.0L577.2 395.9L569.9 397.7L562.6 398.6L555.3 400.4L548.0 398.6L542.5 397.7L537.0 402.3L531.5 405.0L526.0 401.4L520.5 402.3L513.2 405.9L505.9 407.8L500.4 410.5L496.8 413.2L493.1 412.3L487.6 410.5L482.2 407.8L476.7 405.9L473.0 407.8L467.5 411.4L460.2 410.5L452.9 409.6L447.4 405.0L440.1 400.4L432.8 398.6L425.5 403.2L420.0 406.8L420.0 407.8L417.2 410.5L411.7 409.6L406.3 405.0L400.8 400.4L395.3 395.9L389.8 393.1L384.3 392.2L377.0 393.1L369.7 395.9L362.4 397.7L355.1 400.4L347.8 401.4L340.4 400.4L335.0 400.4L331.3 395.9L325.8 396.8L320.3 399.5L314.8 400.4L309.4 398.6L303.9 396.8L298.4 393.1L292.9 393.1L287.4 392.2L283.8 396.8L276.5 400.4L267.3 403.2L260.0 404.5L260.0 403.2L255.4 404.5L250.8 405.9L248.1 408.7L242.6 405.0L236.2 403.2L231.6 404.1L228.0 407.8L230.7 411.4L229.8 415.1L224.3 413.2L217.0 410.5L211.5 406.8L207.9 401.4L202.4 400.1L195.1 399.0L187.8 399.5L180.4 400.4L175.0 403.2L171.3 406.8L165.8 408.1L158.5 407.4L151.2 405.0L143.9 403.2L139.3 405.9L140.6 409.6L139.3 413.6L136.6 411.4L133.8 406.8L129.3 405.0L128.3 400.4L129.3 395.0L132.9 390.4L139.3 386.7L144.8 384.9L143.0 379.4L136.6 377.6L132.9 374.8L133.8 370.3L135.6 364.8L136.6 359.3L135.6 353.8L138.4 347.4L141.1 341.9L143.0 336.5L141.1 330.1L143.0 325.5L149.4 320.0Z" fill="none" stroke="#000" stroke-width="1.25" stroke-linejoin="round"/>
<path d="M364.5 431.8L367 428.5L370 425.8L372.8 424L373.6 425.4L371 427.9L368 430.6L365.5 432.7Z M687.6 244.2L690.4 243.4L692.4 245.9L693.8 249.3L691.8 250.4L690.1 247.6Z M687 296.5L690.5 296.2L693.6 298.2L692 299.8L688.5 299.2Z M473.8 416.5L477.2 409.5L481.5 405.2L486 408.6L481.2 411.8L478.4 416.9Z" fill="#fff" stroke="#000" stroke-width="1.2" stroke-linejoin="round"/><circle cx="391.6" cy="414.3" r="1.4" fill="#000"/><circle cx="415.9" cy="417.5" r="0.9" fill="#000"/><circle cx="422.3" cy="415.2" r="0.9" fill="#000"/><circle cx="426.8" cy="415.2" r="0.9" fill="#000"/><circle cx="438.7" cy="415.2" r="0.9" fill="#000"/><circle cx="289.5" cy="399" r="0.9" fill="#000"/><circle cx="292" cy="397.4" r="0.8" fill="#000"/><circle cx="296" cy="399.6" r="0.9" fill="#000"/><circle cx="291" cy="395" r="0.8" fill="#000"/><circle cx="314" cy="405.6" r="0.9" fill="#000"/><circle cx="329.5" cy="404.5" r="0.9" fill="#000"/><circle cx="356.9" cy="402.3" r="0.9" fill="#000"/><circle cx="683.3" cy="243.1" r="0.9" fill="#000"/><circle cx="680.3" cy="265.2" r="1.1" fill="#000"/><circle cx="684" cy="275" r="1.1" fill="#000"/><circle cx="641.7" cy="331.5" r="1.0" fill="#000"/><circle cx="654.3" cy="322.6" r="0.8" fill="#000"/><circle cx="416.3" cy="417.8" r="0.9" fill="#000"/><circle cx="139.4" cy="412.6" r="1.6" fill="#000"/><path d="M445 412.3L451.5 413.4M457 412.2L468 413.6M459 418L471.5 420.6" stroke="#000" stroke-width="1.9" stroke-linecap="round" fill="none"/></g>
<rect x="99.5" y="171.5" width="593.0" height="290.0" fill="none" stroke="#262626" stroke-width="1"/>
<path d="M134.5 461.5v-6M134.5 171.5v6M204.5 461.5v-6M204.5 171.5v6M273.5 461.5v-6M273.5 171.5v6M342.5 461.5v-6M342.5 171.5v6M411.5 461.5v-6M411.5 171.5v6M480.5 461.5v-6M480.5 171.5v6M549.5 461.5v-6M549.5 171.5v6M618.5 461.5v-6M618.5 171.5v6M687.5 461.5v-6M687.5 171.5v6M99.5 461.5h6M692.5 461.5h-6M99.5 389.5h6M692.5 389.5h-6M99.5 316.5h6M692.5 316.5h-6M99.5 244.5h6M692.5 244.5h-6M99.5 171.5h6M692.5 171.5h-6" stroke="#262626" stroke-width="1" fill="none"/>
<text class="tk" x="134.8" y="490.6" text-anchor="middle" textLength="48.2" lengthAdjust="spacingAndGlyphs">-67.2</text>
<text class="tk" x="203.9" y="490.6" text-anchor="middle" textLength="29.6" lengthAdjust="spacingAndGlyphs">-67</text>
<text class="tk" x="273.0" y="490.6" text-anchor="middle" textLength="48.2" lengthAdjust="spacingAndGlyphs">-66.8</text>
<text class="tk" x="342.1" y="490.6" text-anchor="middle" textLength="48.2" lengthAdjust="spacingAndGlyphs">-66.6</text>
<text class="tk" x="411.2" y="490.6" text-anchor="middle" textLength="48.2" lengthAdjust="spacingAndGlyphs">-66.4</text>
<text class="tk" x="480.3" y="490.6" text-anchor="middle" textLength="48.2" lengthAdjust="spacingAndGlyphs">-66.2</text>
<text class="tk" x="549.4" y="490.6" text-anchor="middle" textLength="29.6" lengthAdjust="spacingAndGlyphs">-66</text>
<text class="tk" x="618.5" y="490.6" text-anchor="middle" textLength="48.2" lengthAdjust="spacingAndGlyphs">-65.8</text>
<text class="tk" x="687.6" y="490.6" text-anchor="middle" textLength="48.2" lengthAdjust="spacingAndGlyphs">-65.6</text>
<text class="tk" x="91.6" y="469.1" text-anchor="end" textLength="40.3" lengthAdjust="spacingAndGlyphs">17.8</text>
<text class="tk" x="91.6" y="396.6" text-anchor="end" textLength="23" lengthAdjust="spacingAndGlyphs">18</text>
<text class="tk" x="91.6" y="324.1" text-anchor="end" textLength="40.3" lengthAdjust="spacingAndGlyphs">18.2</text>
<text class="tk" x="91.6" y="251.6" text-anchor="end" textLength="40.3" lengthAdjust="spacingAndGlyphs">18.4</text>
<text class="tk" x="91.6" y="179.1" text-anchor="end" textLength="40.3" lengthAdjust="spacingAndGlyphs">18.6</text>
<text class="lb" x="396.8" y="521.5" text-anchor="middle" textLength="101.8" lengthAdjust="spacingAndGlyphs">Longitude</text>
<text class="lb" transform="translate(38.2,315.4) rotate(-90)" text-anchor="middle" textLength="83" lengthAdjust="spacingAndGlyphs">Latitude</text>
<text class="tt" x="397.3" y="162.2" text-anchor="middle" textLength="633" lengthAdjust="spacingAndGlyphs">ROOT ZONE SOIL SATURATION (FRACTION) 08-Dec-2025</text>
<rect x="728.5" y="170.5" width="32" height="291" fill="url(#cb)" stroke="#262626" stroke-width="1"/>
<text class="ck" x="769.3" y="468.1" textLength="10.6" lengthAdjust="spacingAndGlyphs">0</text>
<text class="ck" x="769.3" y="410.1" textLength="26.6" lengthAdjust="spacingAndGlyphs">0.2</text>
<text class="ck" x="769.3" y="352.1" textLength="26.6" lengthAdjust="spacingAndGlyphs">0.4</text>
<text class="ck" x="769.3" y="294.1" textLength="26.6" lengthAdjust="spacingAndGlyphs">0.6</text>
<text class="ck" x="769.3" y="236.1" textLength="26.6" lengthAdjust="spacingAndGlyphs">0.8</text>
<text class="ck" x="769.3" y="178.1" textLength="10.6" lengthAdjust="spacingAndGlyphs">1</text>
<path d="M760.5 403.5h-3M760.5 345.5h-3M760.5 287.5h-3M760.5 229.5h-3" stroke="#262626" stroke-width="1" fill="none"/>
</svg>
</body></html>
